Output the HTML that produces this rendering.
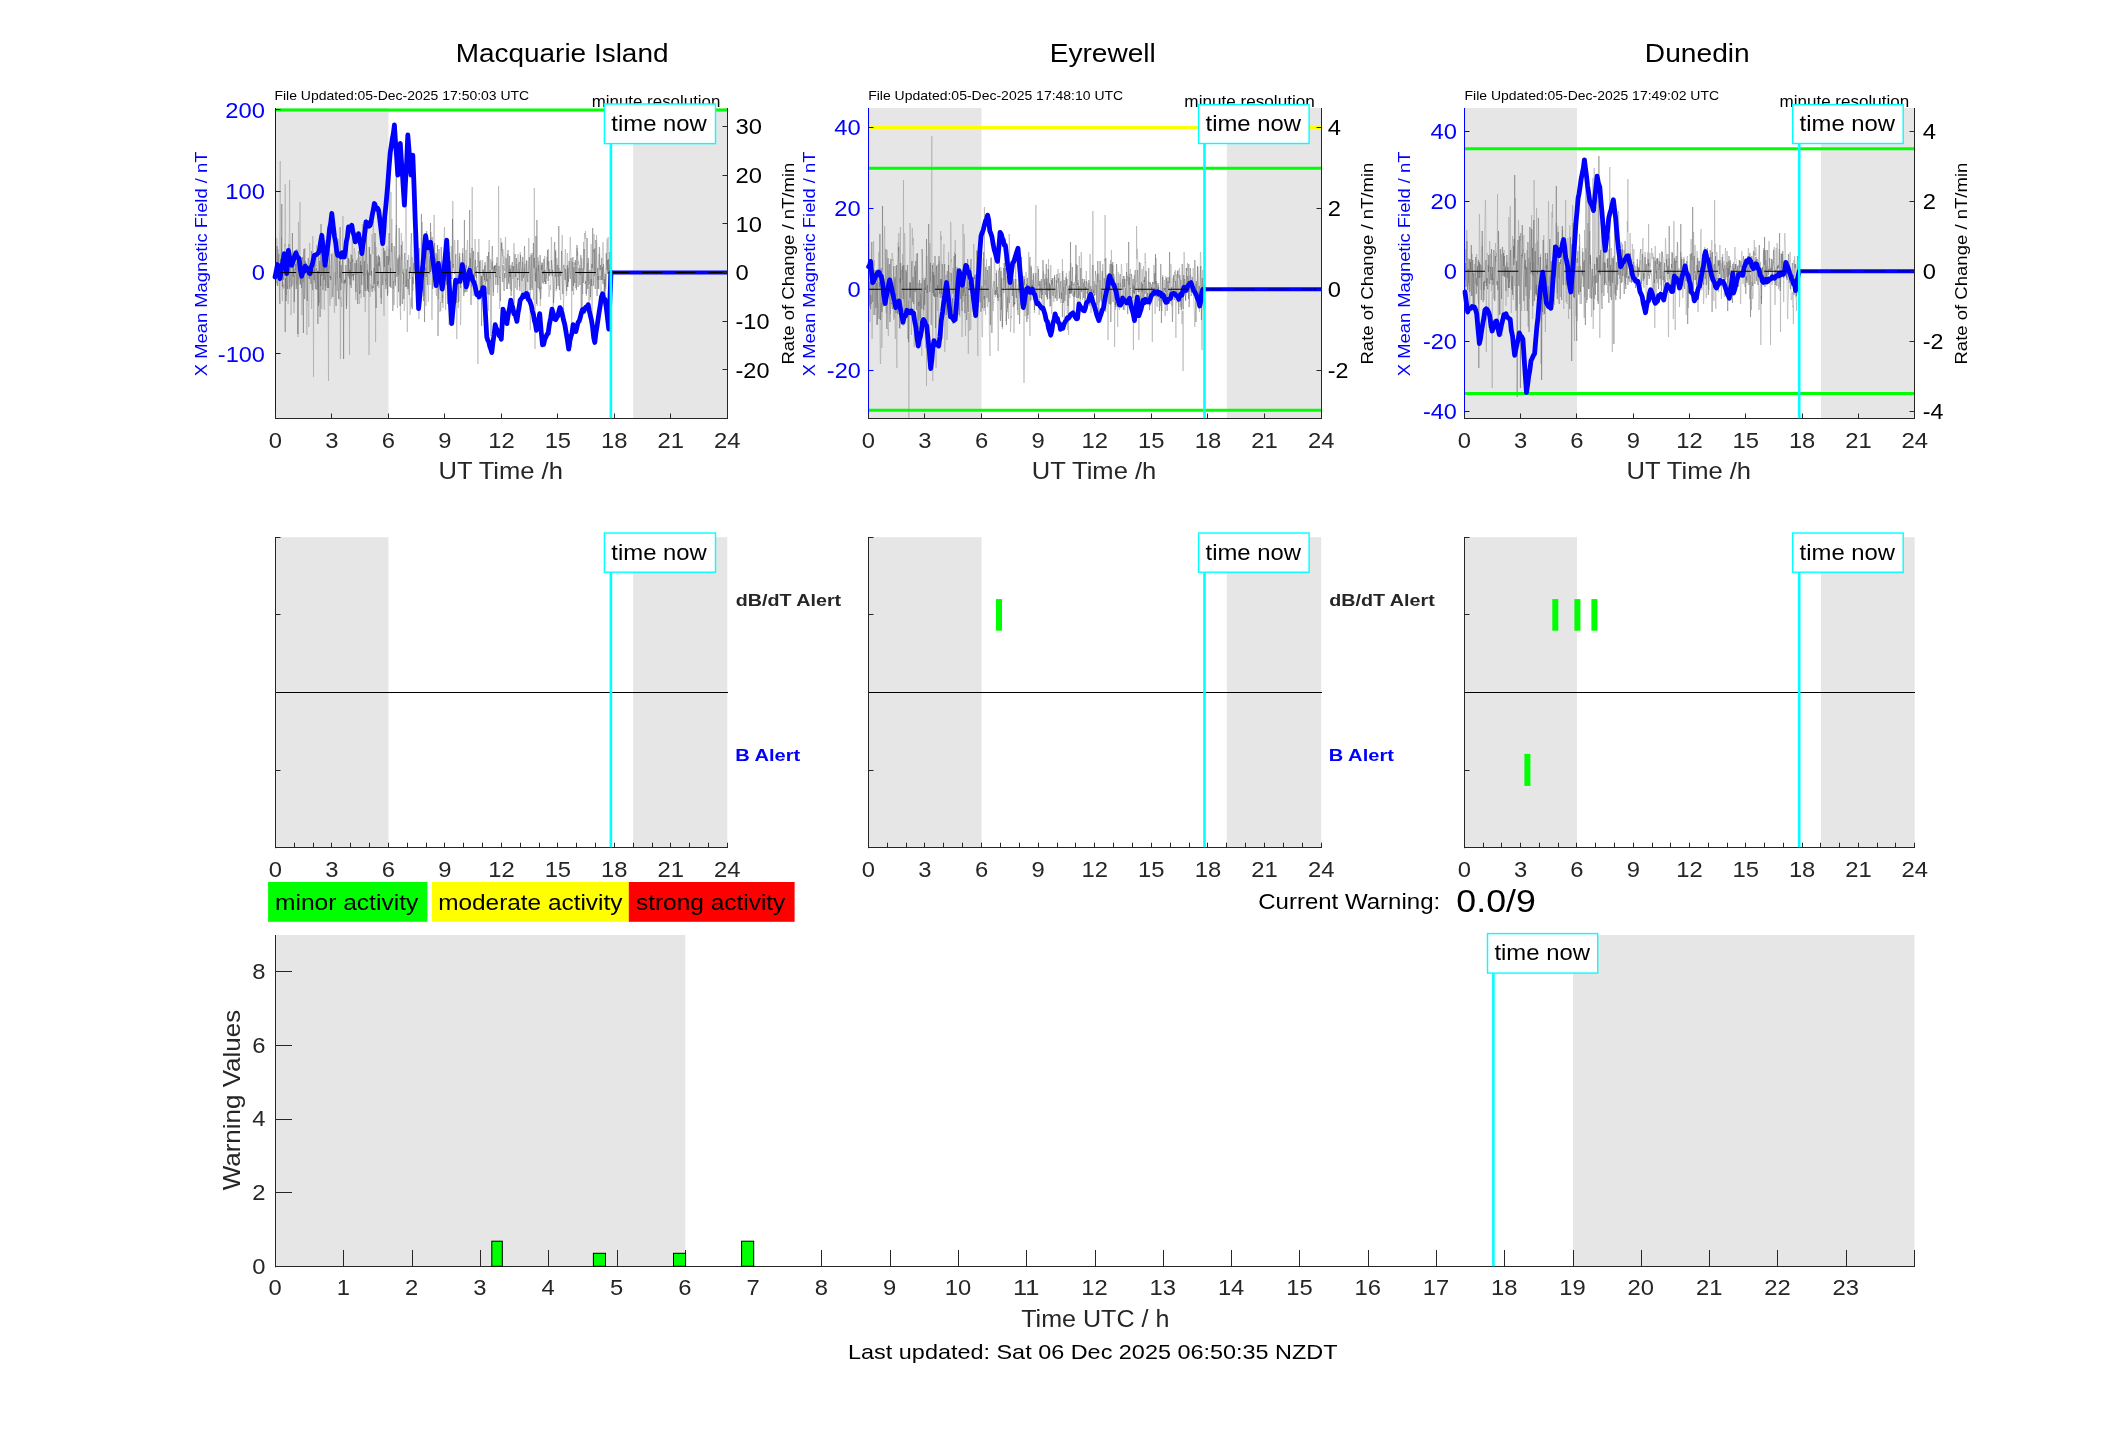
<!DOCTYPE html><html><head><meta charset="utf-8"><style>html,body{margin:0;padding:0;background:#fff;width:2117px;height:1437px;overflow:hidden}</style></head><body><svg width="2117" height="1437" viewBox="0 0 2117 1437" style="display:block;font-family:'Liberation Sans', sans-serif;will-change:transform">
<rect x="0.00" y="0.00" width="2117.00" height="1437.00" fill="#ffffff" stroke="none" stroke-width="0"/>
<rect x="275.50" y="108.00" width="112.95" height="310.20" fill="#e6e6e6" stroke="none" stroke-width="0"/>
<rect x="633.17" y="108.00" width="94.12" height="310.20" fill="#e6e6e6" stroke="none" stroke-width="0"/>
<clipPath id="clip0"><rect x="275.5" y="108.0" width="451.79999999999995" height="310.2"/></clipPath>
<path d="M275.5,279 275.8,269 276.1,274 276.4,265 276.8,238 277.1,245 277.4,275 277.7,259 278.0,251 278.3,249 278.6,278 279.0,263 279.3,254 279.6,234 279.9,226 280.2,161 280.5,259 280.8,269 281.1,262 281.5,237 281.8,255 282.1,295 282.4,301 282.7,282 283.0,287 283.3,289 283.7,284 284.0,288 284.3,267 284.6,244 284.9,247 285.2,184 285.5,253 285.9,271 286.2,287 286.5,295 286.8,264 287.1,249 287.4,257 287.7,283 288.1,304 288.4,293 288.7,272 289.0,242 289.3,234 289.6,180 289.9,232 290.2,245 290.6,279 290.9,315 291.2,314 291.5,290 291.8,273 292.1,275 292.4,281 292.8,285 293.1,275 293.4,264 293.7,295 294.0,313 294.3,287 294.6,277 295.0,257 295.3,257 295.6,256 295.9,266 296.2,265 296.5,263 296.8,273 297.1,285 297.5,257 297.8,268 298.1,337 298.4,222 298.7,228 299.0,260 299.3,279 299.7,276 300.0,202 300.3,285 300.6,276 300.9,281 301.2,268 301.5,295 301.9,315 302.2,303 302.5,282 302.8,269 303.1,275 303.4,282 303.7,269 304.1,249 304.4,267 304.7,258 305.0,248 305.3,272 305.6,263 305.9,271 306.2,291 306.6,326 306.9,335 307.2,311 307.5,265 307.8,266 308.1,288 308.4,313 308.8,327 309.1,307 309.4,276 309.7,243 310.0,248 310.3,274 310.6,278 311.0,280 311.3,291 311.6,309 311.9,289 312.2,268 312.5,247 312.8,236 313.1,260 313.5,377 313.8,292 314.1,279 314.4,261 314.7,283 315.0,280 315.3,271 315.7,255 316.0,265 316.3,267 316.6,245 316.9,251 317.2,267 317.5,275 317.9,279 318.2,281 318.5,283 318.8,295 319.1,300 319.4,303 319.7,299 320.1,291 320.4,276 320.7,268 321.0,248 321.3,267 321.6,308 321.9,309 322.2,278 322.6,265 322.9,258 323.2,275 323.5,259 323.8,281 324.1,308 324.4,310 324.8,262 325.1,240 325.4,267 325.7,286 326.0,276 326.3,271 326.6,270 327.0,254 327.3,254 327.6,277 327.9,300 328.2,312 328.5,381 328.8,274 329.2,258 329.5,286 329.8,302 330.1,306 330.4,276 330.7,277 331.0,278 331.3,299 331.7,291 332.0,276 332.3,263 332.6,253 332.9,253 333.2,265 333.5,274 333.9,283 334.2,310 334.5,313 334.8,303 335.1,272 335.4,285 335.7,274 336.1,237 336.4,239 336.7,262 337.0,266 337.3,291 337.6,270 337.9,239 338.2,239 338.6,250 338.9,263 339.2,283 339.5,285 339.8,300 340.1,272 340.4,359 340.8,297 341.1,303 341.4,303 341.7,307 342.0,294 342.3,274 342.6,226 343.0,216 343.3,256 343.6,284 343.9,280 344.2,280 344.5,280 344.8,284 345.2,279 345.5,283 345.8,272 346.1,295 346.4,306 346.7,291 347.0,285 347.3,278 347.7,277 348.0,268 348.3,262 348.6,259 348.9,260 349.2,273 349.5,355 349.9,260 350.2,264 350.5,254 350.8,256 351.1,267 351.4,277 351.7,277 352.1,233 352.4,231 352.7,255 353.0,262 353.3,281 353.6,281 353.9,261 354.3,248 354.6,252 354.9,253 355.2,253 355.5,270 355.8,300 356.1,289 356.4,263 356.8,275 357.1,272 357.4,264 357.7,258 358.0,262 358.3,271 358.6,281 359.0,299 359.3,304 359.6,303 359.9,264 360.2,256 360.5,293 360.8,290 361.2,298 361.5,276 361.8,255 362.1,242 362.4,224 362.7,234 363.0,242 363.4,276 363.7,274 364.0,244 364.3,272 364.6,282 364.9,285 365.2,312 365.5,298 365.9,256 366.2,238 366.5,245 366.8,256 367.1,275 367.4,264 367.7,279 368.1,279 368.4,272 368.7,292 369.0,355 369.3,247 369.6,271 369.9,289 370.3,297 370.6,284 370.9,286 371.2,289 371.5,271 371.8,246 372.1,234 372.4,245 372.8,254 373.1,226 373.4,221 373.7,244 374.0,278 374.3,291 374.6,262 375.0,242 375.3,254 375.6,342 375.9,248 376.2,247 376.5,260 376.8,273 377.2,264 377.5,272 377.8,273 378.1,262 378.4,266 378.7,288 379.0,278 379.4,256 379.7,266 380.0,262 380.3,271 380.6,298 380.9,296 381.2,285 381.5,268 381.9,266 382.2,246 382.5,224 382.8,233 383.1,217 383.4,256 383.7,307 384.1,316 384.4,287 384.7,255 385.0,250 385.3,252 385.6,281 385.9,279 386.3,285 386.6,276 386.9,246 387.2,260 387.5,288 387.8,294 388.1,283 388.4,272 388.8,263 389.1,249 389.4,261 389.7,170 390.0,286 390.3,276 390.6,258 391.0,192 391.3,252 391.6,235 391.9,219 392.2,238 392.5,248 392.8,281 393.2,289 393.5,281 393.8,291 394.1,305 394.4,293 394.7,272 395.0,283 395.4,264 395.7,235 396.0,233 396.3,225 396.6,228 396.9,262 397.2,306 397.5,308 397.9,293 398.2,257 398.5,266 398.8,275 399.1,259 399.4,255 399.7,265 400.1,284 400.4,317 400.7,320 401.0,263 401.3,233 401.6,260 401.9,254 402.3,273 402.6,241 402.9,272 403.2,269 403.5,284 403.8,274 404.1,311 404.5,309 404.8,305 405.1,250 405.4,234 405.7,219 406.0,191 406.3,213 406.6,247 407.0,305 407.3,332 407.6,309 407.9,289 408.2,286 408.5,255 408.8,257 409.2,268 409.5,290 409.8,306 410.1,315 410.4,310 410.7,303 411.0,298 411.4,307 411.7,284 412.0,257 412.3,268 412.6,275 412.9,291 413.2,280 413.5,248 413.9,235 414.2,232 414.5,243 414.8,270 415.1,259 415.4,241 415.7,240 416.1,252 416.4,286 416.7,293 417.0,258 417.3,277 417.6,283 417.9,297 418.3,290 418.6,268 418.9,319 419.2,300 419.5,287 419.8,280 420.1,266 420.5,277 420.8,293 421.1,293 421.4,288 421.7,273 422.0,245 422.3,222 422.6,243 423.0,262 423.3,292 423.6,285 423.9,296 424.2,268 424.5,263 424.8,245 425.2,244 425.5,284 425.8,306 426.1,305 426.4,285 426.7,268 427.0,241 427.4,244 427.7,257 428.0,290 428.3,302 428.6,286 428.9,269 429.2,264 429.6,259 429.9,285 430.2,274 430.5,263 430.8,233 431.1,232 431.4,272 431.7,317 432.1,320 432.4,300 432.7,281 433.0,268 433.3,258 433.6,238 433.9,215 434.3,215 434.6,239 434.9,269 435.2,261 435.5,258 435.8,264 436.1,294 436.5,296 436.8,264 437.1,255 437.4,260 437.7,279 438.0,299 438.3,299 438.6,280 439.0,264 439.3,266 439.6,283 439.9,312 440.2,306 440.5,302 440.8,311 441.2,286 441.5,261 441.8,273 442.1,286 442.4,298 442.7,295 443.0,308 443.4,296 443.7,274 444.0,245 444.3,229 444.6,227 444.9,254 445.2,272 445.6,310 445.9,287 446.2,259 446.5,246 446.8,264 447.1,281 447.4,304 447.7,304 448.1,271 448.4,243 448.7,252 449.0,325 449.3,269 449.6,254 449.9,252 450.3,260 450.6,280 450.9,274 451.2,246 451.5,251 451.8,267 452.1,279 452.5,272 452.8,201 453.1,236 453.4,244 453.7,265 454.0,256 454.3,248 454.7,240 455.0,245 455.3,261 455.6,276 455.9,278 456.2,284 456.5,295 456.8,339 457.2,280 457.5,276 457.8,285 458.1,292 458.4,308 458.7,285 459.0,283 459.4,275 459.7,257 460.0,279 460.3,307 460.6,325 460.9,313 461.2,293 461.6,284 461.9,262 462.2,261 462.5,251 462.8,248 463.1,257 463.4,265 463.8,268 464.1,277 464.4,293 464.7,288 465.0,286 465.3,277 465.6,265 465.9,250 466.3,250 466.6,268 466.9,260 467.2,247 467.5,240 467.8,253 468.1,278 468.5,284 468.8,267 469.1,281 469.4,286 469.7,283 470.0,270 470.3,253 470.7,267 471.0,268 471.3,268 471.6,287 471.9,274 472.2,187 472.5,273 472.8,277 473.2,296 473.5,281 473.8,273 474.1,273 474.4,282 474.7,265 475.0,239 475.4,250 475.7,276 476.0,267 476.3,283 476.6,275 476.9,286 477.2,285 477.6,299 477.9,364 478.2,300 478.5,269 478.8,239 479.1,248 479.4,260 479.8,289 480.1,298 480.4,289 480.7,260 481.0,266 481.3,276 481.6,289 481.9,294 482.3,271 482.6,260 482.9,272 483.2,269 483.5,280 483.8,290 484.1,286 484.5,266 484.8,282 485.1,268 485.4,265 485.7,271 486.0,271 486.3,274 486.7,281 487.0,282 487.3,281 487.6,279 487.9,300 488.2,311 488.5,286 488.9,249 489.2,240 489.5,261 489.8,275 490.1,279 490.4,272 490.7,259 491.0,268 491.4,270 491.7,266 492.0,262 492.3,269 492.6,261 492.9,278 493.2,285 493.6,292 493.9,280 494.2,266 494.5,270 494.8,266 495.1,265 495.4,277 495.8,269 496.1,270 496.4,263 496.7,270 497.0,276 497.3,281 497.6,293 497.9,273 498.3,262 498.6,186 498.9,260 499.2,270 499.5,300 499.8,309 500.1,282 500.5,260 500.8,238 501.1,243 501.4,251 501.7,250 502.0,242 502.3,251 502.7,256 503.0,249 503.3,258 503.6,264 503.9,256 504.2,266 504.5,271 504.9,263 505.2,245 505.5,237 505.8,253 506.1,279 506.4,286 506.7,289 507.0,270 507.4,254 507.7,268 508.0,277 508.3,279 508.6,282 508.9,274 509.2,266 509.6,273 509.9,286 510.2,289 510.5,274 510.8,265 511.1,268 511.4,291 511.8,289 512.1,275 512.4,266 512.7,279 513.0,277 513.3,270 513.6,252 514.0,243 514.3,249 514.6,264 514.9,271 515.2,273 515.5,288 515.8,275 516.1,271 516.5,265 516.8,264 517.1,268 517.4,273 517.7,268 518.0,254 518.3,263 518.7,274 519.0,269 519.3,286 519.6,287 519.9,273 520.2,252 520.5,256 520.9,268 521.2,269 521.5,277 521.8,296 522.1,291 522.4,270 522.7,262 523.0,275 523.4,295 523.7,297 524.0,288 524.3,268 524.6,276 524.9,264 525.2,280 525.6,290 525.9,289 526.2,266 526.5,260 526.8,275 527.1,296 527.4,290 527.8,298 528.1,284 528.4,255 528.7,238 529.0,241 529.3,259 529.6,268 530.0,272 530.3,330 530.6,277 530.9,258 531.2,253 531.5,279 531.8,288 532.1,281 532.5,255 532.8,253 533.1,277 533.4,300 533.7,289 534.0,262 534.3,188 534.7,279 535.0,349 535.3,273 535.6,282 535.9,280 536.2,268 536.5,271 536.9,301 537.2,306 537.5,293 537.8,282 538.1,257 538.4,271 538.7,261 539.0,270 539.4,292 539.7,291 540.0,297 540.3,306 540.6,300 540.9,287 541.2,289 541.6,266 541.9,262 542.2,264 542.5,270 542.8,272 543.1,281 543.4,284 543.8,280 544.1,275 544.4,265 544.7,256 545.0,275 545.3,280 545.6,278 546.0,272 546.3,279 546.6,271 546.9,257 547.2,257 547.5,265 547.8,261 548.1,270 548.5,249 548.8,296 549.1,297 549.4,294 549.7,289 550.0,285 550.3,290 550.7,290 551.0,261 551.3,237 551.6,241 551.9,264 552.2,265 552.5,279 552.9,285 553.2,309 553.5,302 553.8,299 554.1,296 554.4,292 554.7,281 555.1,259 555.4,252 555.7,273 556.0,291 556.3,291 556.6,281 556.9,258 557.2,263 557.6,269 557.9,276 558.2,275 558.5,277 558.8,274 559.1,268 559.4,275 559.8,272 560.1,294 560.4,297 560.7,300 561.0,285 561.3,269 561.6,266 562.0,239 562.3,235 562.6,251 562.9,265 563.2,289 563.5,310 563.8,298 564.1,278 564.5,271 564.8,267 565.1,255 565.4,249 565.7,276 566.0,281 566.3,296 566.7,294 567.0,263 567.3,253 567.6,270 567.9,287 568.2,282 568.5,278 568.9,275 569.2,264 569.5,253 569.8,253 570.1,238 570.4,237 570.7,249 571.1,279 571.4,279 571.7,347 572.0,284 572.3,272 572.6,262 572.9,265 573.2,271 573.6,295 573.9,281 574.2,262 574.5,265 574.8,263 575.1,263 575.4,284 575.8,288 576.1,273 576.4,265 576.7,252 577.0,248 577.3,256 577.6,251 578.0,258 578.3,265 578.6,261 578.9,266 579.2,274 579.5,270 579.8,265 580.2,275 580.5,268 580.8,291 581.1,316 581.4,286 581.7,258 582.0,261 582.3,283 582.7,294 583.0,278 583.3,271 583.6,242 583.9,268 584.2,247 584.5,233 584.9,238 585.2,239 585.5,231 585.8,236 586.1,263 586.4,296 586.7,291 587.1,280 587.4,270 587.7,263 588.0,281 588.3,274 588.6,284 588.9,303 589.2,286 589.6,287 589.9,300 590.2,299 590.5,285 590.8,260 591.1,244 591.4,260 591.8,299 592.1,327 592.4,297 592.7,269 593.0,251 593.3,250 593.6,252 594.0,234 594.3,258 594.6,276 594.9,248 595.2,258 595.5,274 595.8,264 596.2,253 596.5,235 596.8,241 597.1,270 597.4,281 597.7,289 598.0,283 598.3,274 598.7,261 599.0,254 599.3,254 599.6,267 599.9,280 600.2,276 600.5,293 600.9,298 601.2,297 601.5,287 601.8,282 602.1,275 602.4,251 602.7,245 603.1,242 603.4,250 603.7,266 604.0,273 604.3,273 604.6,280 604.9,307 605.3,300 605.6,287 605.9,289 606.2,280 606.5,256 606.8,252 607.1,239 607.4,255 607.8,274 608.1,237 608.4,292 608.7,294 609.0,292 609.3,268 609.6,264 610.0,275 610.3,293 610.6,285 610.9,267" fill="none" stroke="#a0a0a0" stroke-width="0.5" clip-path="url(#clip0)"/>
<path d="M275.5,272 275.8,284 276.1,284 276.4,277 276.8,268 277.1,246 277.4,278 277.7,286 278.0,280 278.3,259 278.6,258 279.0,254 279.3,284 279.6,297 279.9,304 280.2,275 280.5,259 280.8,279 281.1,265 281.5,249 281.8,204 282.1,268 282.4,287 282.7,266 283.0,267 283.3,280 283.7,276 284.0,273 284.3,256 284.6,254 284.9,263 285.2,332 285.5,278 285.9,299 286.2,301 286.5,267 286.8,270 287.1,284 287.4,289 287.7,286 288.1,270 288.4,260 288.7,272 289.0,244 289.3,269 289.6,289 289.9,277 290.2,259 290.6,258 290.9,280 291.2,286 291.5,287 291.8,285 292.1,265 292.4,233 292.8,273 293.1,277 293.4,272 293.7,254 294.0,282 294.3,302 294.6,288 295.0,269 295.3,270 295.6,264 295.9,282 296.2,289 296.5,287 296.8,249 297.1,250 297.5,284 297.8,334 298.1,318 298.4,280 298.7,256 299.0,257 299.3,256 299.7,266 300.0,281 300.3,284 300.6,268 300.9,272 301.2,279 301.5,288 301.9,281 302.2,263 302.5,257 302.8,289 303.1,302 303.4,333 303.7,254 304.1,249 304.4,270 304.7,299 305.0,291 305.3,261 305.6,270 305.9,268 306.2,263 306.6,272 306.9,288 307.2,301 307.5,291 307.8,275 308.1,259 308.4,258 308.8,265 309.1,278 309.4,279 309.7,268 310.0,271 310.3,278 310.6,279 311.0,284 311.3,283 311.6,251 311.9,269 312.2,288 312.5,289 312.8,290 313.1,273 313.5,273 313.8,270 314.1,280 314.4,265 314.7,261 315.0,265 315.3,279 315.7,289 316.0,277 316.3,269 316.6,268 316.9,290 317.2,285 317.5,271 317.9,324 318.2,271 318.5,306 318.8,256 319.1,274 319.4,274 319.7,261 320.1,317 320.4,275 320.7,286 321.0,224 321.3,276 321.6,272 321.9,272 322.2,258 322.6,264 322.9,290 323.2,286 323.5,271 323.8,266 324.1,280 324.4,276 324.8,264 325.1,268 325.4,285 325.7,291 326.0,275 326.3,264 326.6,272 327.0,279 327.3,288 327.6,266 327.9,265 328.2,278 328.5,288 328.8,267 329.2,250 329.5,262 329.8,265 330.1,278 330.4,276 330.7,280 331.0,278 331.3,254 331.7,259 332.0,274 332.3,285 332.6,295 332.9,297 333.2,291 333.5,283 333.9,275 334.2,263 334.5,246 334.8,245 335.1,251 335.4,274 335.7,292 336.1,306 336.4,278 336.7,266 337.0,256 337.3,261 337.6,278 337.9,279 338.2,286 338.6,299 338.9,291 339.2,276 339.5,261 339.8,278 340.1,227 340.4,271 340.8,290 341.1,265 341.4,267 341.7,283 342.0,271 342.3,266 342.6,258 343.0,266 343.3,284 343.6,359 343.9,294 344.2,289 344.5,281 344.8,280 345.2,283 345.5,273 345.8,265 346.1,269 346.4,309 346.7,304 347.0,289 347.3,230 347.7,255 348.0,276 348.3,276 348.6,258 348.9,266 349.2,277 349.5,279 349.9,270 350.2,285 350.5,266 350.8,262 351.1,288 351.4,285 351.7,255 352.1,262 352.4,259 352.7,276 353.0,274 353.3,280 353.6,274 353.9,275 354.3,274 354.6,274 354.9,263 355.2,271 355.5,276 355.8,292 356.1,274 356.4,260 356.8,267 357.1,281 357.4,290 357.7,304 358.0,282 358.3,265 358.6,251 359.0,258 359.3,290 359.6,294 359.9,291 360.2,265 360.5,261 360.8,273 361.2,265 361.5,270 361.8,285 362.1,266 362.4,244 362.7,246 363.0,270 363.4,275 363.7,291 364.0,297 364.3,261 364.6,275 364.9,286 365.2,291 365.5,261 365.9,254 366.2,250 366.5,219 366.8,266 367.1,291 367.4,270 367.7,289 368.1,273 368.4,290 368.7,292 369.0,271 369.3,247 369.6,258 369.9,275 370.3,269 370.6,254 370.9,267 371.2,276 371.5,271 371.8,275 372.1,292 372.4,286 372.8,287 373.1,288 373.4,288 373.7,276 374.0,268 374.3,284 374.6,264 375.0,233 375.3,257 375.6,293 375.9,294 376.2,308 376.5,275 376.8,256 377.2,258 377.5,286 377.8,281 378.1,284 378.4,255 378.7,258 379.0,266 379.4,257 379.7,258 380.0,265 380.3,267 380.6,272 380.9,276 381.2,304 381.5,298 381.9,277 382.2,272 382.5,282 382.8,285 383.1,274 383.4,268 383.7,248 384.1,262 384.4,267 384.7,251 385.0,263 385.3,280 385.6,281 385.9,289 386.3,279 386.6,256 386.9,257 387.2,276 387.5,296 387.8,280 388.1,256 388.4,265 388.8,239 389.1,233 389.4,249 389.7,265 390.0,287 390.3,275 390.6,268 391.0,288 391.3,252 391.6,247 391.9,243 392.2,250 392.5,297 392.8,311 393.2,304 393.5,269 393.8,260 394.1,246 394.4,253 394.7,257 395.0,276 395.4,286 395.7,269 396.0,245 396.3,169 396.6,268 396.9,277 397.2,275 397.5,265 397.9,259 398.2,278 398.5,292 398.8,266 399.1,228 399.4,240 399.7,279 400.1,306 400.4,275 400.7,258 401.0,256 401.3,245 401.6,285 401.9,292 402.3,304 402.6,293 402.9,272 403.2,274 403.5,273 403.8,299 404.1,267 404.5,256 404.8,253 405.1,257 405.4,273 405.7,287 406.0,282 406.3,269 406.6,287 407.0,274 407.3,263 407.6,260 407.9,289 408.2,279 408.5,286 408.8,291 409.2,295 409.5,271 409.8,279 410.1,267 410.4,273 410.7,249 411.0,242 411.4,233 411.7,247 412.0,302 412.3,309 412.6,277 412.9,280 413.2,284 413.5,264 413.9,263 414.2,274 414.5,261 414.8,251 415.1,266 415.4,272 415.7,250 416.1,244 416.4,254 416.7,261 417.0,279 417.3,287 417.6,261 417.9,280 418.3,304 418.6,277 418.9,259 419.2,248 419.5,281 419.8,286 420.1,295 420.5,297 420.8,274 421.1,263 421.4,214 421.7,278 422.0,258 422.3,266 422.6,272 423.0,273 423.3,265 423.6,301 423.9,279 424.2,268 424.5,322 424.8,288 425.2,267 425.5,270 425.8,269 426.1,277 426.4,274 426.7,231 427.0,271 427.4,283 427.7,285 428.0,263 428.3,248 428.6,244 428.9,256 429.2,268 429.6,274 429.9,256 430.2,272 430.5,223 430.8,272 431.1,269 431.4,268 431.7,248 432.1,237 432.4,265 432.7,289 433.0,269 433.3,261 433.6,262 433.9,272 434.3,262 434.6,243 434.9,262 435.2,280 435.5,286 435.8,268 436.1,253 436.5,266 436.8,274 437.1,273 437.4,245 437.7,258 438.0,336 438.3,299 438.6,277 439.0,249 439.3,261 439.6,278 439.9,279 440.2,290 440.5,270 440.8,271 441.2,247 441.5,260 441.8,278 442.1,303 442.4,298 442.7,298 443.0,279 443.4,253 443.7,254 444.0,284 444.3,280 444.6,275 444.9,276 445.2,281 445.6,271 445.9,268 446.2,285 446.5,283 446.8,276 447.1,261 447.4,290 447.7,304 448.1,284 448.4,273 448.7,281 449.0,284 449.3,278 449.6,279 449.9,273 450.3,266 450.6,261 450.9,275 451.2,279 451.5,274 451.8,273 452.1,270 452.5,219 452.8,265 453.1,268 453.4,264 453.7,265 454.0,272 454.3,272 454.7,274 455.0,270 455.3,259 455.6,256 455.9,254 456.2,268 456.5,300 456.8,303 457.2,282 457.5,254 457.8,240 458.1,250 458.4,283 458.7,302 459.0,283 459.4,258 459.7,253 460.0,273 460.3,281 460.6,288 460.9,275 461.2,262 461.6,271 461.9,274 462.2,276 462.5,253 462.8,257 463.1,264 463.4,282 463.8,296 464.1,280 464.4,220 464.7,263 465.0,283 465.3,292 465.6,289 465.9,267 466.3,265 466.6,285 466.9,292 467.2,280 467.5,283 467.8,282 468.1,277 468.5,267 468.8,266 469.1,274 469.4,268 469.7,210 470.0,267 470.3,258 470.7,284 471.0,305 471.3,292 471.6,272 471.9,248 472.2,251 472.5,274 472.8,269 473.2,261 473.5,251 473.8,265 474.1,289 474.4,281 474.7,266 475.0,265 475.4,260 475.7,272 476.0,276 476.3,278 476.6,271 476.9,272 477.2,266 477.6,267 477.9,252 478.2,256 478.5,261 478.8,265 479.1,274 479.4,273 479.8,261 480.1,281 480.4,295 480.7,288 481.0,282 481.3,276 481.6,326 481.9,276 482.3,288 482.6,285 482.9,270 483.2,270 483.5,276 483.8,272 484.1,273 484.5,280 484.8,265 485.1,262 485.4,287 485.7,333 486.0,280 486.3,273 486.7,281 487.0,264 487.3,256 487.6,275 487.9,294 488.2,280 488.5,252 488.9,264 489.2,295 489.5,290 489.8,279 490.1,270 490.4,276 490.7,283 491.0,336 491.4,276 491.7,275 492.0,255 492.3,246 492.6,256 492.9,284 493.2,296 493.6,273 493.9,267 494.2,273 494.5,266 494.8,268 495.1,265 495.4,267 495.8,285 496.1,276 496.4,277 496.7,271 497.0,257 497.3,268 497.6,280 497.9,285 498.3,276 498.6,274 498.9,266 499.2,272 499.5,278 499.8,277 500.1,291 500.5,301 500.8,276 501.1,257 501.4,243 501.7,247 502.0,251 502.3,277 502.7,282 503.0,265 503.3,268 503.6,268 503.9,290 504.2,291 504.5,273 504.9,278 505.2,277 505.5,274 505.8,266 506.1,258 506.4,265 506.7,276 507.0,288 507.4,289 507.7,280 508.0,250 508.3,257 508.6,273 508.9,284 509.2,268 509.6,256 509.9,277 510.2,269 510.5,277 510.8,281 511.1,296 511.4,269 511.8,265 512.1,263 512.4,262 512.7,267 513.0,272 513.3,266 513.6,267 514.0,317 514.3,274 514.6,266 514.9,257 515.2,254 515.5,276 515.8,277 516.1,273 516.5,258 516.8,274 517.1,290 517.4,280 517.7,278 518.0,280 518.3,269 518.7,265 519.0,262 519.3,262 519.6,273 519.9,291 520.2,265 520.5,255 520.9,259 521.2,270 521.5,273 521.8,279 522.1,281 522.4,269 522.7,257 523.0,269 523.4,278 523.7,277 524.0,271 524.3,250 524.6,246 524.9,269 525.2,293 525.6,291 525.9,282 526.2,280 526.5,263 526.8,261 527.1,268 527.4,277 527.8,282 528.1,275 528.4,273 528.7,262 529.0,261 529.3,257 529.6,273 530.0,290 530.3,289 530.6,272 530.9,263 531.2,255 531.5,264 531.8,276 532.1,290 532.5,283 532.8,275 533.1,265 533.4,243 533.7,262 534.0,268 534.3,258 534.7,266 535.0,272 535.3,281 535.6,279 535.9,236 536.2,269 536.5,304 536.9,220 537.2,260 537.5,278 537.8,284 538.1,288 538.4,265 538.7,265 539.0,277 539.4,290 539.7,279 540.0,255 540.3,257 540.6,299 540.9,294 541.2,271 541.6,265 541.9,270 542.2,263 542.5,267 542.8,283 543.1,271 543.4,274 543.8,259 544.1,261 544.4,276 544.7,282 545.0,270 545.3,284 545.6,280 546.0,284 546.3,279 546.6,274 546.9,274 547.2,264 547.5,250 547.8,271 548.1,281 548.5,274 548.8,261 549.1,273 549.4,276 549.7,269 550.0,273 550.3,274 550.7,274 551.0,274 551.3,270 551.6,260 551.9,266 552.2,276 552.5,270 552.9,270 553.2,280 553.5,303 553.8,293 554.1,271 554.4,247 554.7,242 555.1,267 555.4,277 555.7,250 556.0,260 556.3,272 556.6,289 556.9,275 557.2,266 557.6,265 557.9,270 558.2,286 558.5,273 558.8,226 559.1,269 559.4,290 559.8,273 560.1,271 560.4,271 560.7,276 561.0,274 561.3,263 561.6,251 562.0,264 562.3,283 562.6,294 562.9,294 563.2,271 563.5,265 563.8,265 564.1,266 564.5,269 564.8,273 565.1,280 565.4,269 565.7,272 566.0,282 566.3,285 566.7,291 567.0,274 567.3,265 567.6,287 567.9,268 568.2,278 568.5,282 568.9,266 569.2,261 569.5,271 569.8,277 570.1,278 570.4,279 570.7,267 571.1,258 571.4,268 571.7,279 572.0,288 572.3,291 572.6,263 572.9,257 573.2,275 573.6,286 573.9,267 574.2,268 574.5,282 574.8,283 575.1,274 575.4,260 575.8,267 576.1,276 576.4,290 576.7,269 577.0,245 577.3,258 577.6,282 578.0,287 578.3,286 578.6,273 578.9,268 579.2,271 579.5,273 579.8,285 580.2,275 580.5,258 580.8,255 581.1,258 581.4,264 581.7,287 582.0,307 582.3,292 582.7,272 583.0,268 583.3,283 583.6,273 583.9,254 584.2,249 584.5,256 584.9,279 585.2,284 585.5,283 585.8,281 586.1,294 586.4,283 586.7,263 587.1,238 587.4,257 587.7,289 588.0,283 588.3,258 588.6,263 588.9,285 589.2,284 589.6,282 589.9,270 590.2,281 590.5,297 590.8,288 591.1,279 591.4,286 591.8,264 592.1,268 592.4,267 592.7,228 593.0,271 593.3,286 593.6,281 594.0,252 594.3,249 594.6,267 594.9,276 595.2,289 595.5,273 595.8,240 596.2,247 596.5,258 596.8,287 597.1,296 597.4,272 597.7,268 598.0,280 598.3,276 598.7,289 599.0,270 599.3,247 599.6,248 599.9,267 600.2,270 600.5,265 600.9,272 601.2,280 601.5,266 601.8,258 602.1,280 602.4,267 602.7,277 603.1,284 603.4,264 603.7,272 604.0,285 604.3,296 604.6,279 604.9,291 605.3,274 605.6,287 605.9,276 606.2,253 606.5,260 606.8,267 607.1,270 607.4,260 607.8,271 608.1,274 608.4,259 608.7,267 609.0,284 609.3,272 609.6,252 610.0,263 610.3,279 610.6,287 610.9,271" fill="none" stroke="#5c5c5c" stroke-width="0.42" clip-path="url(#clip0)"/>
<line x1="275.50" y1="110.10" x2="727.30" y2="110.10" stroke="#00ff00" stroke-width="3" />
<path d="M275.0,277.0 276.2,271.6 277.5,264.5 278.8,271.8 280.0,278.7 281.1,272.2 282.1,265.5 283.1,260.5 284.2,253.6 285.4,262.9 286.7,273.7 288.4,250.3 289.5,256.7 290.6,260.4 291.7,265.3 292.8,262.3 293.8,259.3 294.8,255.7 295.9,252.8 297.0,256.2 298.1,257.6 299.2,258.6 300.4,269.8 301.7,276.2 302.8,272.2 304.0,271.5 305.1,266.2 306.1,267.3 307.1,269.7 308.1,268.9 309.1,273.0 310.1,273.7 311.2,267.2 312.2,264.7 313.2,260.4 314.3,255.3 315.3,255.0 316.3,254.7 317.3,253.9 318.3,252.8 319.3,251.1 320.6,242.2 321.8,235.3 322.9,245.6 324.0,254.7 325.1,265.3 326.2,257.0 327.3,250.0 328.5,239.9 329.6,228.5 330.7,223.1 331.8,213.5 333.5,228.6 334.5,236.6 335.6,242.1 336.6,250.8 337.6,255.3 338.7,253.8 339.8,254.9 341.0,256.9 342.1,252.7 343.2,252.6 344.3,257.0 345.4,250.4 346.4,241.3 347.4,237.0 348.5,226.9 349.6,228.0 350.7,227.0 351.8,225.2 352.9,232.1 354.1,235.3 355.2,241.9 356.3,237.6 357.4,238.2 358.5,233.6 359.6,241.1 360.8,245.0 361.9,253.6 362.9,244.8 363.9,239.0 365.0,231.4 366.0,221.9 367.1,222.7 368.1,222.9 369.1,226.2 370.2,225.2 371.2,221.2 372.3,214.5 373.3,209.8 374.4,203.5 375.4,206.0 376.5,209.0 377.6,208.2 378.6,210.2 379.6,217.8 380.6,225.9 381.7,235.5 382.7,243.6 383.7,232.1 384.7,216.6 385.7,207.5 386.7,196.8 387.7,185.2 389.0,167.6 390.3,151.8 391.3,146.0 392.4,138.2 393.4,133.2 394.4,125.0 395.5,142.1 396.7,157.9 397.8,175.1 399.1,159.4 400.3,143.4 401.3,159.8 402.4,173.8 403.4,189.5 404.4,205.2 405.5,182.0 406.7,161.6 407.8,135.0 408.9,148.6 410.0,163.5 411.1,175.1 412.8,155.1 414.0,185.4 415.1,217.2 416.3,247.5 417.4,278.1 418.6,308.7 419.6,298.4 420.6,288.2 421.6,276.0 422.6,267.9 423.6,256.7 424.6,244.5 425.6,235.6 426.7,242.1 427.8,247.9 429.2,244.4 430.6,242.3 431.7,250.9 432.8,259.8 433.9,267.8 435.0,275.1 436.1,285.7 437.2,275.3 438.4,263.5 439.7,272.2 441.0,280.7 442.3,289.1 443.4,278.8 444.5,264.5 445.6,253.0 446.7,240.1 447.7,258.6 448.7,275.5 449.7,291.6 450.7,307.5 451.7,323.6 453.0,309.3 454.3,295.0 455.6,280.2 456.7,282.3 457.9,281.4 459.0,280.3 460.1,281.3 461.2,273.2 462.3,264.6 463.6,270.7 464.9,277.6 466.2,286.9 467.3,281.8 468.5,275.9 469.6,270.2 470.6,275.4 471.6,276.1 472.6,280.3 473.7,281.8 474.7,284.7 475.7,289.1 476.8,294.7 477.9,295.1 479.0,296.9 480.0,295.3 481.0,291.9 482.0,292.2 483.0,287.6 484.0,288.0 485.4,312.9 486.8,337.0 487.8,340.2 488.8,341.9 489.8,346.4 490.8,349.1 491.8,352.6 492.9,342.6 494.1,334.8 495.2,324.7 496.2,328.1 497.2,329.8 498.2,331.9 499.3,336.0 500.3,336.3 501.3,339.2 503.0,309.1 504.3,313.6 505.6,319.2 506.9,323.6 508.2,314.5 509.5,308.5 510.8,300.2 511.8,305.0 512.8,307.7 513.9,313.7 514.9,312.9 515.9,317.5 516.9,321.4 518.0,313.1 519.1,307.5 520.2,300.2 521.2,298.8 522.2,297.5 523.2,294.9 524.3,296.5 525.3,295.6 526.3,293.5 527.3,294.0 528.3,299.6 529.4,300.1 530.4,302.8 531.4,305.8 532.4,311.3 533.4,314.2 534.4,320.7 535.4,324.2 536.4,330.3 537.5,324.1 538.6,320.2 539.7,313.6 541.1,330.4 542.5,344.8 543.6,344.5 544.7,339.6 545.9,337.0 547.0,334.3 548.1,333.6 549.4,324.2 550.7,317.9 552.0,309.1 553.4,314.0 554.7,319.2 555.7,319.7 556.8,317.4 557.8,316.1 558.8,311.7 559.9,307.6 560.9,309.1 562.2,313.5 563.5,319.9 564.8,324.7 566.1,332.5 567.4,340.2 568.7,349.2 569.8,340.9 570.9,336.6 572.0,333.2 573.1,324.7 574.5,329.3 575.9,331.4 577.0,326.8 578.1,322.3 579.3,320.9 580.4,317.0 581.5,312.5 582.6,309.4 583.7,311.4 584.9,308.5 586.0,307.0 587.1,306.7 588.2,304.7 589.3,310.7 590.4,315.7 591.5,320.3 592.6,327.3 593.7,337.6 594.8,342.5 595.9,333.2 597.0,326.6 598.1,319.0 599.3,311.0 600.4,304.4 601.5,296.9 602.6,293.8 603.8,298.9 604.9,299.1 606.2,307.0 607.5,318.2 608.8,329.2 609.9,299.7 611.0,272.5" fill="none" stroke="#0000ff" stroke-width="4.8" stroke-linejoin="round" stroke-linecap="round" />
<line x1="610.90" y1="272.50" x2="727.30" y2="272.50" stroke="#0000ff" stroke-width="4" />
<line x1="275.50" y1="272.50" x2="727.30" y2="272.50" stroke="#000000" stroke-width="1.1" stroke-dasharray="20.6,12.7"/>
<line x1="275.50" y1="108.00" x2="275.50" y2="419.00" stroke="#0000ff" stroke-width="1"/>
<line x1="727.50" y1="108.00" x2="727.50" y2="419.00" stroke="#262626" stroke-width="1"/>
<line x1="275.00" y1="418.50" x2="728.00" y2="418.50" stroke="#262626" stroke-width="1"/>
<line x1="275.50" y1="413.50" x2="275.50" y2="418.00" stroke="#262626" stroke-width="1"/>
<text x="268.89" y="448.00" font-size="22.2" fill="#262626" textLength="13.23" lengthAdjust="spacingAndGlyphs">0</text>
<line x1="331.50" y1="413.50" x2="331.50" y2="418.00" stroke="#262626" stroke-width="1"/>
<text x="325.36" y="448.00" font-size="22.2" fill="#262626" textLength="13.23" lengthAdjust="spacingAndGlyphs">3</text>
<line x1="388.50" y1="413.50" x2="388.50" y2="418.00" stroke="#262626" stroke-width="1"/>
<text x="381.84" y="448.00" font-size="22.2" fill="#262626" textLength="13.23" lengthAdjust="spacingAndGlyphs">6</text>
<line x1="444.50" y1="413.50" x2="444.50" y2="418.00" stroke="#262626" stroke-width="1"/>
<text x="438.31" y="448.00" font-size="22.2" fill="#262626" textLength="13.23" lengthAdjust="spacingAndGlyphs">9</text>
<line x1="501.50" y1="413.50" x2="501.50" y2="418.00" stroke="#262626" stroke-width="1"/>
<text x="488.17" y="448.00" font-size="22.2" fill="#262626" textLength="26.46" lengthAdjust="spacingAndGlyphs">12</text>
<line x1="557.50" y1="413.50" x2="557.50" y2="418.00" stroke="#262626" stroke-width="1"/>
<text x="544.65" y="448.00" font-size="22.2" fill="#262626" textLength="26.46" lengthAdjust="spacingAndGlyphs">15</text>
<line x1="614.50" y1="413.50" x2="614.50" y2="418.00" stroke="#262626" stroke-width="1"/>
<text x="601.12" y="448.00" font-size="22.2" fill="#262626" textLength="26.46" lengthAdjust="spacingAndGlyphs">18</text>
<line x1="670.50" y1="413.50" x2="670.50" y2="418.00" stroke="#262626" stroke-width="1"/>
<text x="657.60" y="448.00" font-size="22.2" fill="#262626" textLength="26.46" lengthAdjust="spacingAndGlyphs">21</text>
<line x1="727.50" y1="413.50" x2="727.50" y2="418.00" stroke="#262626" stroke-width="1"/>
<text x="714.07" y="448.00" font-size="22.2" fill="#262626" textLength="26.46" lengthAdjust="spacingAndGlyphs">24</text>
<line x1="275.00" y1="109.50" x2="280.50" y2="109.50" stroke="#0000ff" stroke-width="1"/>
<text x="225.31" y="117.70" font-size="22.2" fill="#0000ff" textLength="39.69" lengthAdjust="spacingAndGlyphs">200</text>
<line x1="275.00" y1="191.50" x2="280.50" y2="191.50" stroke="#0000ff" stroke-width="1"/>
<text x="225.31" y="199.10" font-size="22.2" fill="#0000ff" textLength="39.69" lengthAdjust="spacingAndGlyphs">100</text>
<line x1="275.00" y1="272.50" x2="280.50" y2="272.50" stroke="#0000ff" stroke-width="1"/>
<text x="251.77" y="280.30" font-size="22.2" fill="#0000ff" textLength="13.23" lengthAdjust="spacingAndGlyphs">0</text>
<line x1="275.00" y1="353.50" x2="280.50" y2="353.50" stroke="#0000ff" stroke-width="1"/>
<text x="217.80" y="361.70" font-size="22.2" fill="#0000ff" textLength="47.20" lengthAdjust="spacingAndGlyphs">-100</text>
<line x1="722.50" y1="126.50" x2="727.50" y2="126.50" stroke="#262626" stroke-width="1"/>
<text x="735.50" y="134.20" font-size="22.2" fill="#000000" textLength="26.46" lengthAdjust="spacingAndGlyphs">30</text>
<line x1="722.50" y1="175.50" x2="727.50" y2="175.50" stroke="#262626" stroke-width="1"/>
<text x="735.50" y="182.80" font-size="22.2" fill="#000000" textLength="26.46" lengthAdjust="spacingAndGlyphs">20</text>
<line x1="722.50" y1="223.50" x2="727.50" y2="223.50" stroke="#262626" stroke-width="1"/>
<text x="735.50" y="231.50" font-size="22.2" fill="#000000" textLength="26.46" lengthAdjust="spacingAndGlyphs">10</text>
<line x1="722.50" y1="272.50" x2="727.50" y2="272.50" stroke="#262626" stroke-width="1"/>
<text x="735.50" y="280.30" font-size="22.2" fill="#000000" textLength="13.23" lengthAdjust="spacingAndGlyphs">0</text>
<line x1="722.50" y1="321.50" x2="727.50" y2="321.50" stroke="#262626" stroke-width="1"/>
<text x="735.50" y="329.00" font-size="22.2" fill="#000000" textLength="33.97" lengthAdjust="spacingAndGlyphs">-10</text>
<line x1="722.50" y1="369.50" x2="727.50" y2="369.50" stroke="#262626" stroke-width="1"/>
<text x="735.50" y="377.70" font-size="22.2" fill="#000000" textLength="33.97" lengthAdjust="spacingAndGlyphs">-20</text>
<text x="438.46" y="479.00" font-size="24.3" fill="#262626" font-weight="normal" textLength="124.48" lengthAdjust="spacingAndGlyphs">UT Time /h</text>
<text x="455.71" y="61.70" font-size="26.2" fill="#000000" font-weight="normal" textLength="212.79" lengthAdjust="spacingAndGlyphs">Macquarie Island</text>
<text x="274.45" y="100.20" font-size="12.2" fill="#000000" font-weight="normal" textLength="254.78" lengthAdjust="spacingAndGlyphs">File Updated:05-Dec-2025 17:50:03 UTC</text>
<text x="591.68" y="106.60" font-size="16.5" fill="#000000" font-weight="normal" textLength="128.72" lengthAdjust="spacingAndGlyphs">minute resolution</text>
<line x1="610.90" y1="143.60" x2="610.90" y2="418.20" stroke="#00ffff" stroke-width="2.6" />
<rect x="604.40" y="104.00" width="111.10" height="39.60" fill="#ffffff" stroke="#00ffff" stroke-width="1.4"/>
<text x="611.34" y="130.80" font-size="21.5" fill="#000000" font-weight="normal" textLength="95.50" lengthAdjust="spacingAndGlyphs">time now</text>
<text transform="translate(206.60,376.21) rotate(-90)" x="0" y="0" font-size="16.8" fill="#0000ff" font-weight="normal" textLength="224.63" lengthAdjust="spacingAndGlyphs">X Mean Magnetic Field / nT</text>
<text transform="translate(794.30,364.52) rotate(-90)" x="0" y="0" font-size="16.8" fill="#000000" font-weight="normal" textLength="201.82" lengthAdjust="spacingAndGlyphs">Rate of Change / nT/min</text>
<rect x="868.30" y="108.00" width="113.23" height="310.20" fill="#e6e6e6" stroke="none" stroke-width="0"/>
<rect x="1226.85" y="108.00" width="94.35" height="310.20" fill="#e6e6e6" stroke="none" stroke-width="0"/>
<clipPath id="clip1"><rect x="868.3" y="108.0" width="452.9000000000001" height="310.2"/></clipPath>
<path d="M868.3,255 868.6,243 868.9,224 869.2,247 869.6,266 869.9,321 870.2,322 870.5,281 870.8,272 871.1,277 871.4,302 871.8,311 872.1,339 872.4,316 872.7,296 873.0,275 873.3,264 873.6,241 874.0,266 874.3,260 874.6,279 874.9,302 875.2,315 875.5,280 875.8,283 876.2,275 876.5,286 876.8,287 877.1,324 877.4,315 877.7,294 878.0,287 878.4,259 878.7,252 879.0,264 879.3,287 879.6,294 879.9,328 880.3,361 880.6,364 880.9,328 881.2,303 881.5,323 881.8,348 882.1,344 882.5,305 882.8,300 883.1,307 883.4,303 883.7,293 884.0,262 884.3,235 884.7,226 885.0,259 885.3,295 885.6,297 885.9,291 886.2,313 886.5,291 886.9,272 887.2,250 887.5,295 887.8,308 888.1,331 888.4,336 888.7,304 889.1,293 889.4,290 889.7,297 890.0,301 890.3,309 890.6,314 890.9,291 891.3,293 891.6,278 891.9,254 892.2,253 892.5,255 892.8,261 893.1,259 893.5,289 893.8,320 894.1,308 894.4,318 894.7,307 895.0,279 895.3,339 895.7,266 896.0,282 896.3,299 896.6,356 896.9,368 897.2,333 897.5,275 897.9,247 898.2,242 898.5,252 898.8,233 899.1,255 899.4,263 899.8,320 900.1,329 900.4,227 900.7,317 901.0,283 901.3,274 901.6,270 902.0,271 902.3,280 902.6,254 902.9,284 903.2,312 903.5,180 903.8,326 904.2,297 904.5,233 904.8,235 905.1,247 905.4,273 905.7,284 906.0,288 906.4,272 906.7,272 907.0,294 907.3,309 907.6,338 907.9,339 908.2,322 908.6,301 908.9,427 909.2,286 909.5,259 909.8,241 910.1,223 910.4,242 910.8,277 911.1,308 911.4,335 911.7,316 912.0,254 912.3,228 912.6,245 913.0,240 913.3,238 913.6,242 913.9,304 914.2,347 914.5,326 914.8,287 915.2,271 915.5,276 915.8,289 916.1,273 916.4,254 916.7,288 917.0,304 917.4,324 917.7,315 918.0,303 918.3,295 918.6,283 918.9,302 919.3,321 919.6,313 919.9,300 920.2,318 920.5,294 920.8,296 921.1,315 921.5,341 921.8,356 922.1,315 922.4,297 922.7,278 923.0,290 923.3,299 923.7,316 924.0,298 924.3,288 924.6,294 924.9,305 925.2,320 925.5,348 925.9,314 926.2,287 926.5,386 926.8,256 927.1,310 927.4,330 927.7,343 928.1,361 928.4,343 928.7,325 929.0,317 929.3,285 929.6,248 929.9,243 930.3,247 930.6,282 930.9,259 931.2,223 931.5,203 931.8,136 932.1,277 932.5,298 932.8,381 933.1,282 933.4,263 933.7,271 934.0,279 934.3,294 934.7,297 935.0,296 935.3,293 935.6,329 935.9,367 936.2,368 936.5,293 936.9,265 937.2,291 937.5,311 937.8,281 938.1,264 938.4,319 938.8,327 939.1,283 939.4,261 939.7,283 940.0,298 940.3,278 940.6,231 941.0,240 941.3,236 941.6,279 941.9,328 942.2,339 942.5,319 942.8,292 943.2,272 943.5,256 943.8,246 944.1,244 944.4,296 944.7,352 945.0,349 945.4,328 945.7,292 946.0,275 946.3,300 946.6,326 946.9,340 947.2,335 947.6,326 947.9,289 948.2,285 948.5,252 948.8,259 949.1,284 949.4,307 949.8,272 950.1,282 950.4,266 950.7,222 951.0,231 951.3,262 951.6,259 952.0,278 952.3,289 952.6,294 952.9,268 953.2,281 953.5,293 953.8,292 954.2,267 954.5,252 954.8,257 955.1,240 955.4,240 955.7,289 956.0,310 956.4,309 956.7,291 957.0,296 957.3,315 957.6,315 957.9,294 958.3,295 958.6,310 958.9,304 959.2,303 959.5,307 959.8,317 960.1,311 960.5,286 960.8,278 961.1,273 961.4,278 961.7,315 962.0,337 962.3,325 962.7,309 963.0,224 963.3,302 963.6,288 963.9,274 964.2,234 964.5,243 964.9,308 965.2,317 965.5,336 965.8,307 966.1,276 966.4,289 966.7,277 967.1,267 967.4,295 967.7,302 968.0,314 968.3,354 968.6,322 968.9,313 969.3,331 969.6,318 969.9,295 970.2,296 970.5,305 970.8,330 971.1,298 971.5,278 971.8,293 972.1,310 972.4,302 972.7,307 973.0,312 973.3,287 973.7,244 974.0,247 974.3,268 974.6,293 974.9,312 975.2,295 975.5,274 975.9,293 976.2,289 976.5,267 976.8,250 977.1,272 977.4,327 977.8,356 978.1,312 978.4,281 978.7,260 979.0,280 979.3,300 979.6,302 980.0,285 980.3,302 980.6,279 980.9,267 981.2,253 981.5,283 981.8,326 982.2,337 982.5,337 982.8,314 983.1,267 983.4,258 983.7,304 984.0,311 984.4,207 984.7,285 985.0,280 985.3,305 985.6,315 985.9,278 986.2,268 986.6,259 986.9,286 987.2,306 987.5,307 987.8,303 988.1,277 988.4,266 988.8,285 989.1,303 989.4,335 989.7,340 990.0,356 990.3,318 990.6,283 991.0,274 991.3,257 991.6,271 991.9,281 992.2,289 992.5,289 992.8,296 993.2,311 993.5,302 993.8,303 994.1,273 994.4,256 994.7,248 995.0,274 995.4,297 995.7,293 996.0,293 996.3,291 996.6,270 996.9,290 997.3,300 997.6,314 997.9,327 998.2,351 998.5,336 998.8,301 999.1,270 999.5,262 999.8,283 1000.1,297 1000.4,295 1000.7,274 1001.0,267 1001.3,293 1001.7,316 1002.0,320 1002.3,329 1002.6,329 1002.9,292 1003.2,288 1003.5,279 1003.9,293 1004.2,288 1004.5,281 1004.8,258 1005.1,255 1005.4,280 1005.7,300 1006.1,321 1006.4,318 1006.7,315 1007.0,312 1007.3,308 1007.6,312 1007.9,297 1008.3,309 1008.6,319 1008.9,277 1009.2,234 1009.5,247 1009.8,283 1010.1,294 1010.5,332 1010.8,325 1011.1,316 1011.4,318 1011.7,297 1012.0,266 1012.3,259 1012.7,261 1013.0,287 1013.3,282 1013.6,298 1013.9,333 1014.2,328 1014.5,302 1014.9,291 1015.2,286 1015.5,274 1015.8,258 1016.1,291 1016.4,294 1016.8,296 1017.1,302 1017.4,310 1017.7,310 1018.0,288 1018.3,284 1018.6,293 1019.0,279 1019.3,286 1019.6,267 1019.9,270 1020.2,266 1020.5,262 1020.8,283 1021.2,277 1021.5,286 1021.8,303 1022.1,289 1022.4,282 1022.7,298 1023.0,296 1023.4,293 1023.7,300 1024.0,383 1024.3,319 1024.6,303 1024.9,314 1025.2,316 1025.6,301 1025.9,272 1026.2,276 1026.5,286 1026.8,285 1027.1,299 1027.4,313 1027.8,319 1028.1,295 1028.4,269 1028.7,252 1029.0,263 1029.3,298 1029.6,325 1030.0,336 1030.3,301 1030.6,279 1030.9,265 1031.2,269 1031.5,285 1031.8,300 1032.2,280 1032.5,289 1032.8,288 1033.1,294 1033.4,275 1033.7,275 1034.0,286 1034.4,313 1034.7,294 1035.0,279 1035.3,262 1035.6,251 1035.9,205 1036.3,295 1036.6,305 1036.9,303 1037.2,292 1037.5,282 1037.8,266 1038.1,278 1038.5,297 1038.8,300 1039.1,315 1039.4,311 1039.7,289 1040.0,284 1040.3,292 1040.7,281 1041.0,285 1041.3,298 1041.6,297 1041.9,301 1042.2,309 1042.5,288 1042.9,286 1043.2,280 1043.5,271 1043.8,278 1044.1,281 1044.4,288 1044.7,286 1045.1,274 1045.4,277 1045.7,280 1046.0,285 1046.3,282 1046.6,286 1046.9,288 1047.3,300 1047.6,295 1047.9,293 1048.2,281 1048.5,259 1048.8,269 1049.1,282 1049.5,293 1049.8,307 1050.1,292 1050.4,275 1050.7,265 1051.0,266 1051.3,303 1051.7,314 1052.0,309 1052.3,290 1052.6,281 1052.9,278 1053.2,296 1053.5,297 1053.9,302 1054.2,294 1054.5,286 1054.8,277 1055.1,284 1055.4,287 1055.8,298 1056.1,299 1056.4,289 1056.7,274 1057.0,280 1057.3,274 1057.6,283 1058.0,269 1058.3,276 1058.6,288 1058.9,293 1059.2,299 1059.5,283 1059.8,273 1060.2,281 1060.5,299 1060.8,303 1061.1,300 1061.4,292 1061.7,294 1062.0,284 1062.4,259 1062.7,271 1063.0,291 1063.3,287 1063.6,289 1063.9,304 1064.2,323 1064.6,313 1064.9,309 1065.2,287 1065.5,284 1065.8,295 1066.1,288 1066.4,273 1066.8,293 1067.1,312 1067.4,330 1067.7,316 1068.0,289 1068.3,295 1068.6,335 1069.0,274 1069.3,271 1069.6,285 1069.9,298 1070.2,278 1070.5,277 1070.8,263 1071.2,290 1071.5,290 1071.8,283 1072.1,283 1072.4,282 1072.7,296 1073.0,293 1073.4,294 1073.7,296 1074.0,297 1074.3,282 1074.6,295 1074.9,290 1075.3,278 1075.6,275 1075.9,282 1076.2,264 1076.5,264 1076.8,287 1077.1,302 1077.5,304 1077.8,307 1078.1,302 1078.4,280 1078.7,298 1079.0,266 1079.3,256 1079.7,267 1080.0,302 1080.3,309 1080.6,310 1080.9,271 1081.2,252 1081.5,258 1081.9,278 1082.2,285 1082.5,300 1082.8,299 1083.1,289 1083.4,283 1083.7,289 1084.1,282 1084.4,282 1084.7,281 1085.0,295 1085.3,299 1085.6,283 1085.9,278 1086.3,271 1086.6,281 1086.9,288 1087.2,296 1087.5,298 1087.8,287 1088.1,283 1088.5,285 1088.8,289 1089.1,292 1089.4,289 1089.7,271 1090.0,254 1090.3,263 1090.7,293 1091.0,313 1091.3,305 1091.6,295 1091.9,286 1092.2,269 1092.5,264 1092.9,211 1093.2,270 1093.5,304 1093.8,311 1094.1,290 1094.4,281 1094.8,290 1095.1,284 1095.4,290 1095.7,295 1096.0,290 1096.3,285 1096.6,298 1097.0,321 1097.3,288 1097.6,273 1097.9,282 1098.2,276 1098.5,274 1098.8,284 1099.2,297 1099.5,303 1099.8,286 1100.1,280 1100.4,287 1100.7,300 1101.0,288 1101.4,297 1101.7,292 1102.0,305 1102.3,290 1102.6,265 1102.9,264 1103.2,283 1103.6,288 1103.9,292 1104.2,274 1104.5,259 1104.8,261 1105.1,215 1105.4,301 1105.8,312 1106.1,305 1106.4,294 1106.7,275 1107.0,285 1107.3,286 1107.6,282 1108.0,340 1108.3,306 1108.6,303 1108.9,295 1109.2,282 1109.5,274 1109.8,282 1110.2,305 1110.5,260 1110.8,304 1111.1,301 1111.4,250 1111.7,278 1112.0,269 1112.4,280 1112.7,271 1113.0,265 1113.3,274 1113.6,291 1113.9,281 1114.2,277 1114.6,347 1114.9,289 1115.2,301 1115.5,310 1115.8,306 1116.1,293 1116.5,288 1116.8,295 1117.1,306 1117.4,308 1117.7,327 1118.0,285 1118.3,272 1118.7,296 1119.0,306 1119.3,310 1119.6,309 1119.9,306 1120.2,297 1120.5,283 1120.9,287 1121.2,266 1121.5,264 1121.8,268 1122.1,274 1122.4,290 1122.7,288 1123.1,285 1123.4,276 1123.7,278 1124.0,281 1124.3,293 1124.6,310 1124.9,307 1125.3,288 1125.6,292 1125.9,296 1126.2,302 1126.5,304 1126.8,263 1127.1,281 1127.5,276 1127.8,276 1128.1,283 1128.4,287 1128.7,305 1129.0,305 1129.3,299 1129.7,274 1130.0,276 1130.3,269 1130.6,279 1130.9,288 1131.2,305 1131.5,313 1131.9,317 1132.2,317 1132.5,289 1132.8,284 1133.1,293 1133.4,350 1133.7,298 1134.1,276 1134.4,275 1134.7,288 1135.0,304 1135.3,292 1135.6,282 1136.0,281 1136.3,282 1136.6,226 1136.9,259 1137.2,249 1137.5,253 1137.8,260 1138.2,278 1138.5,301 1138.8,340 1139.1,330 1139.4,315 1139.7,303 1140.0,285 1140.4,267 1140.7,263 1141.0,279 1141.3,297 1141.6,299 1141.9,309 1142.2,269 1142.6,311 1142.9,301 1143.2,277 1143.5,266 1143.8,272 1144.1,297 1144.4,296 1144.8,278 1145.1,253 1145.4,263 1145.7,262 1146.0,281 1146.3,283 1146.6,296 1147.0,296 1147.3,305 1147.6,302 1147.9,291 1148.2,285 1148.5,281 1148.8,284 1149.2,283 1149.5,287 1149.8,297 1150.1,298 1150.4,306 1150.7,292 1151.0,298 1151.4,284 1151.7,291 1152.0,289 1152.3,342 1152.6,291 1152.9,282 1153.2,284 1153.6,275 1153.9,265 1154.2,268 1154.5,281 1154.8,300 1155.1,314 1155.5,298 1155.8,291 1156.1,258 1156.4,289 1156.7,299 1157.0,306 1157.3,307 1157.7,290 1158.0,288 1158.3,285 1158.6,295 1158.9,301 1159.2,295 1159.5,299 1159.9,302 1160.2,306 1160.5,300 1160.8,292 1161.1,303 1161.4,306 1161.7,309 1162.1,311 1162.4,290 1162.7,275 1163.0,279 1163.3,301 1163.6,300 1163.9,292 1164.3,280 1164.6,280 1164.9,303 1165.2,316 1165.5,294 1165.8,276 1166.1,287 1166.5,302 1166.8,285 1167.1,278 1167.4,277 1167.7,290 1168.0,298 1168.3,301 1168.7,288 1169.0,292 1169.3,296 1169.6,300 1169.9,304 1170.2,296 1170.5,278 1170.9,264 1171.2,267 1171.5,300 1171.8,306 1172.1,296 1172.4,287 1172.7,282 1173.1,278 1173.4,286 1173.7,292 1174.0,276 1174.3,282 1174.6,272 1175.0,276 1175.3,270 1175.6,274 1175.9,338 1176.2,274 1176.5,280 1176.8,293 1177.2,303 1177.5,285 1177.8,282 1178.1,270 1178.4,278 1178.7,275 1179.0,273 1179.4,268 1179.7,274 1180.0,286 1180.3,307 1180.6,294 1180.9,280 1181.2,287 1181.6,309 1181.9,324 1182.2,323 1182.5,311 1182.8,313 1183.1,371 1183.4,288 1183.8,265 1184.1,252 1184.4,258 1184.7,280 1185.0,293 1185.3,297 1185.6,300 1186.0,292 1186.3,288 1186.6,278 1186.9,268 1187.2,271 1187.5,263 1187.8,275 1188.2,289 1188.5,285 1188.8,289 1189.1,289 1189.4,281 1189.7,292 1190.0,292 1190.4,275 1190.7,275 1191.0,296 1191.3,294 1191.6,296 1191.9,289 1192.2,288 1192.6,289 1192.9,277 1193.2,268 1193.5,278 1193.8,302 1194.1,311 1194.5,317 1194.8,327 1195.1,310 1195.4,291 1195.7,284 1196.0,284 1196.3,299 1196.7,296 1197.0,300 1197.3,275 1197.6,267 1197.9,268 1198.2,288 1198.5,292 1198.9,305 1199.2,310 1199.5,312 1199.8,284 1200.1,271 1200.4,252 1200.7,254 1201.1,267 1201.4,294 1201.7,305 1202.0,350 1202.3,292 1202.6,270 1202.9,272 1203.3,281 1203.6,301 1203.9,291 1204.2,290" fill="none" stroke="#a0a0a0" stroke-width="0.5" clip-path="url(#clip1)"/>
<path d="M868.3,245 868.6,212 868.9,306 869.2,305 869.6,290 869.9,282 870.2,304 870.5,309 870.8,295 871.1,304 871.4,267 871.8,242 872.1,270 872.4,289 872.7,302 873.0,295 873.3,279 873.6,288 874.0,315 874.3,302 874.6,298 874.9,270 875.2,270 875.5,280 875.8,308 876.2,301 876.5,283 876.8,287 877.1,325 877.4,297 877.7,274 878.0,301 878.4,305 878.7,312 879.0,319 879.3,282 879.6,287 879.9,234 880.3,291 880.6,320 880.9,305 881.2,268 881.5,276 881.8,311 882.1,312 882.5,206 882.8,286 883.1,276 883.4,275 883.7,277 884.0,280 884.3,297 884.7,295 885.0,306 885.3,297 885.6,283 885.9,249 886.2,279 886.5,323 886.9,329 887.2,320 887.5,301 887.8,266 888.1,258 888.4,284 888.7,287 889.1,271 889.4,264 889.7,305 890.0,322 890.3,288 890.6,265 890.9,259 891.3,304 891.6,303 891.9,306 892.2,307 892.5,309 892.8,296 893.1,280 893.5,275 893.8,266 894.1,278 894.4,299 894.7,294 895.0,277 895.3,307 895.7,293 896.0,313 896.3,278 896.6,265 896.9,278 897.2,305 897.5,314 897.9,306 898.2,264 898.5,256 898.8,247 899.1,299 899.4,328 899.8,323 900.1,278 900.4,283 900.7,263 901.0,286 901.3,305 901.6,307 902.0,288 902.3,268 902.6,266 902.9,291 903.2,299 903.5,294 903.8,265 904.2,276 904.5,298 904.8,308 905.1,319 905.4,303 905.7,285 906.0,270 906.4,300 906.7,318 907.0,278 907.3,265 907.6,265 907.9,294 908.2,318 908.6,342 908.9,331 909.2,297 909.5,284 909.8,282 910.1,298 910.4,283 910.8,297 911.1,308 911.4,273 911.7,266 912.0,261 912.3,289 912.6,302 913.0,277 913.3,287 913.6,304 913.9,302 914.2,278 914.5,266 914.8,269 915.2,292 915.5,276 915.8,261 916.1,275 916.4,306 916.7,310 917.0,298 917.4,253 917.7,280 918.0,326 918.3,343 918.6,302 918.9,306 919.3,291 919.6,280 919.9,300 920.2,324 920.5,295 920.8,288 921.1,283 921.5,303 921.8,309 922.1,249 922.4,255 922.7,271 923.0,277 923.3,296 923.7,310 924.0,307 924.3,280 924.6,305 924.9,302 925.2,278 925.5,290 925.9,277 926.2,273 926.5,239 926.8,260 927.1,293 927.4,285 927.7,334 928.1,338 928.4,283 928.7,224 929.0,253 929.3,270 929.6,292 929.9,290 930.3,263 930.6,263 930.9,303 931.2,325 931.5,307 931.8,285 932.1,274 932.5,265 932.8,293 933.1,272 933.4,280 933.7,296 934.0,275 934.3,293 934.7,297 935.0,256 935.3,282 935.6,328 935.9,317 936.2,276 936.5,266 936.9,274 937.2,297 937.5,286 937.8,285 938.1,288 938.4,289 938.8,257 939.1,256 939.4,294 939.7,292 940.0,286 940.3,282 940.6,279 941.0,298 941.3,279 941.6,294 941.9,275 942.2,264 942.5,265 942.8,289 943.2,298 943.5,303 943.8,286 944.1,277 944.4,268 944.7,264 945.0,290 945.4,302 945.7,301 946.0,302 946.3,315 946.6,290 946.9,291 947.2,271 947.6,290 947.9,294 948.2,286 948.5,265 948.8,293 949.1,294 949.4,300 949.8,299 950.1,293 950.4,287 950.7,284 951.0,281 951.3,273 951.6,289 952.0,314 952.3,310 952.6,298 952.9,320 953.2,324 953.5,272 953.8,271 954.2,256 954.5,287 954.8,291 955.1,297 955.4,254 955.7,295 956.0,314 956.4,304 956.7,292 957.0,267 957.3,284 957.6,315 957.9,275 958.3,275 958.6,269 958.9,290 959.2,315 959.5,286 959.8,278 960.1,290 960.5,295 960.8,299 961.1,288 961.4,277 961.7,306 962.0,311 962.3,272 962.7,279 963.0,296 963.3,276 963.6,276 963.9,293 964.2,279 964.5,279 964.9,313 965.2,299 965.5,294 965.8,296 966.1,287 966.4,313 966.7,320 967.1,311 967.4,307 967.7,259 968.0,302 968.3,312 968.6,289 968.9,282 969.3,289 969.6,288 969.9,277 970.2,268 970.5,288 970.8,261 971.1,259 971.5,291 971.8,301 972.1,283 972.4,282 972.7,285 973.0,277 973.3,282 973.7,280 974.0,277 974.3,277 974.6,279 974.9,275 975.2,277 975.5,280 975.9,303 976.2,315 976.5,306 976.8,290 977.1,251 977.4,259 977.8,274 978.1,307 978.4,302 978.7,303 979.0,288 979.3,271 979.6,235 980.0,268 980.3,290 980.6,302 980.9,312 981.2,307 981.5,299 981.8,286 982.2,306 982.5,308 982.8,291 983.1,274 983.4,257 983.7,252 984.0,299 984.4,296 984.7,308 985.0,301 985.3,287 985.6,267 985.9,269 986.2,277 986.6,284 986.9,298 987.2,291 987.5,270 987.8,274 988.1,278 988.4,293 988.8,302 989.1,300 989.4,266 989.7,266 990.0,306 990.3,325 990.6,292 991.0,258 991.3,282 991.6,317 991.9,333 992.2,319 992.5,297 992.8,293 993.2,288 993.5,284 993.8,284 994.1,281 994.4,283 994.7,295 995.0,294 995.4,290 995.7,294 996.0,293 996.3,273 996.6,288 996.9,295 997.3,287 997.6,298 997.9,294 998.2,301 998.5,271 998.8,271 999.1,271 999.5,268 999.8,291 1000.1,306 1000.4,321 1000.7,312 1001.0,271 1001.3,310 1001.7,278 1002.0,304 1002.3,327 1002.6,318 1002.9,304 1003.2,275 1003.5,268 1003.9,280 1004.2,263 1004.5,271 1004.8,276 1005.1,288 1005.4,268 1005.7,292 1006.1,304 1006.4,325 1006.7,295 1007.0,276 1007.3,296 1007.6,308 1007.9,305 1008.3,290 1008.6,275 1008.9,287 1009.2,302 1009.5,303 1009.8,298 1010.1,287 1010.5,282 1010.8,290 1011.1,288 1011.4,282 1011.7,280 1012.0,284 1012.3,296 1012.7,275 1013.0,283 1013.3,307 1013.6,284 1013.9,279 1014.2,305 1014.5,302 1014.9,304 1015.2,288 1015.5,288 1015.8,279 1016.1,296 1016.4,298 1016.8,289 1017.1,298 1017.4,303 1017.7,304 1018.0,315 1018.3,286 1018.6,259 1019.0,276 1019.3,297 1019.6,324 1019.9,313 1020.2,300 1020.5,284 1020.8,305 1021.2,281 1021.5,257 1021.8,278 1022.1,300 1022.4,287 1022.7,284 1023.0,296 1023.4,306 1023.7,295 1024.0,276 1024.3,285 1024.6,279 1024.9,295 1025.2,290 1025.6,297 1025.9,300 1026.2,305 1026.5,284 1026.8,322 1027.1,282 1027.4,278 1027.8,299 1028.1,315 1028.4,306 1028.7,304 1029.0,292 1029.3,275 1029.6,266 1030.0,257 1030.3,301 1030.6,287 1030.9,278 1031.2,267 1031.5,278 1031.8,287 1032.2,285 1032.5,292 1032.8,284 1033.1,274 1033.4,273 1033.7,289 1034.0,289 1034.4,310 1034.7,304 1035.0,295 1035.3,284 1035.6,275 1035.9,273 1036.3,287 1036.6,299 1036.9,299 1037.2,298 1037.5,305 1037.8,285 1038.1,279 1038.5,269 1038.8,286 1039.1,285 1039.4,281 1039.7,297 1040.0,298 1040.3,293 1040.7,289 1041.0,282 1041.3,279 1041.6,299 1041.9,290 1042.2,295 1042.5,277 1042.9,260 1043.2,263 1043.5,279 1043.8,309 1044.1,317 1044.4,290 1044.7,279 1045.1,287 1045.4,294 1045.7,295 1046.0,285 1046.3,264 1046.6,297 1046.9,278 1047.3,283 1047.6,299 1047.9,291 1048.2,269 1048.5,278 1048.8,291 1049.1,289 1049.5,283 1049.8,299 1050.1,285 1050.4,285 1050.7,306 1051.0,296 1051.3,289 1051.7,280 1052.0,285 1052.3,278 1052.6,288 1052.9,295 1053.2,296 1053.5,288 1053.9,286 1054.2,281 1054.5,275 1054.8,293 1055.1,298 1055.4,296 1055.8,296 1056.1,290 1056.4,280 1056.7,291 1057.0,301 1057.3,298 1057.6,289 1058.0,287 1058.3,281 1058.6,278 1058.9,282 1059.2,290 1059.5,298 1059.8,295 1060.2,287 1060.5,283 1060.8,282 1061.1,281 1061.4,299 1061.7,293 1062.0,295 1062.4,317 1062.7,271 1063.0,278 1063.3,298 1063.6,303 1063.9,288 1064.2,280 1064.6,297 1064.9,301 1065.2,293 1065.5,290 1065.8,277 1066.1,278 1066.4,285 1066.8,283 1067.1,279 1067.4,288 1067.7,298 1068.0,306 1068.3,299 1068.6,295 1069.0,286 1069.3,285 1069.6,294 1069.9,286 1070.2,293 1070.5,242 1070.8,292 1071.2,294 1071.5,281 1071.8,293 1072.1,282 1072.4,267 1072.7,283 1073.0,285 1073.4,285 1073.7,284 1074.0,319 1074.3,291 1074.6,296 1074.9,297 1075.3,294 1075.6,288 1075.9,245 1076.2,282 1076.5,289 1076.8,298 1077.1,265 1077.5,285 1077.8,283 1078.1,298 1078.4,298 1078.7,295 1079.0,286 1079.3,292 1079.7,295 1080.0,296 1080.3,299 1080.6,277 1080.9,268 1081.2,285 1081.5,292 1081.9,287 1082.2,279 1082.5,279 1082.8,285 1083.1,291 1083.4,295 1083.7,298 1084.1,279 1084.4,280 1084.7,302 1085.0,306 1085.3,302 1085.6,287 1085.9,289 1086.3,285 1086.6,281 1086.9,285 1087.2,294 1087.5,291 1087.8,299 1088.1,301 1088.5,290 1088.8,280 1089.1,282 1089.4,287 1089.7,306 1090.0,299 1090.3,293 1090.7,286 1091.0,290 1091.3,293 1091.6,289 1091.9,295 1092.2,305 1092.5,289 1092.9,265 1093.2,283 1093.5,293 1093.8,291 1094.1,290 1094.4,296 1094.8,289 1095.1,286 1095.4,271 1095.7,274 1096.0,275 1096.3,279 1096.6,297 1097.0,305 1097.3,290 1097.6,266 1097.9,261 1098.2,278 1098.5,306 1098.8,318 1099.2,297 1099.5,283 1099.8,275 1100.1,261 1100.4,273 1100.7,289 1101.0,292 1101.4,302 1101.7,289 1102.0,275 1102.3,271 1102.6,287 1102.9,304 1103.2,302 1103.6,295 1103.9,291 1104.2,278 1104.5,283 1104.8,284 1105.1,285 1105.4,290 1105.8,258 1106.1,290 1106.4,302 1106.7,302 1107.0,292 1107.3,290 1107.6,291 1108.0,280 1108.3,286 1108.6,283 1108.9,300 1109.2,304 1109.5,285 1109.8,268 1110.2,264 1110.5,299 1110.8,322 1111.1,313 1111.4,287 1111.7,264 1112.0,265 1112.4,282 1112.7,262 1113.0,302 1113.3,283 1113.6,275 1113.9,274 1114.2,279 1114.6,286 1114.9,291 1115.2,305 1115.5,302 1115.8,307 1116.1,283 1116.5,264 1116.8,267 1117.1,295 1117.4,290 1117.7,292 1118.0,283 1118.3,283 1118.7,295 1119.0,300 1119.3,307 1119.6,287 1119.9,276 1120.2,274 1120.5,300 1120.9,300 1121.2,296 1121.5,305 1121.8,300 1122.1,286 1122.4,281 1122.7,279 1123.1,303 1123.4,310 1123.7,284 1124.0,276 1124.3,284 1124.6,287 1124.9,279 1125.3,290 1125.6,304 1125.9,294 1126.2,288 1126.5,272 1126.8,276 1127.1,284 1127.5,312 1127.8,314 1128.1,293 1128.4,288 1128.7,242 1129.0,285 1129.3,277 1129.7,293 1130.0,298 1130.3,288 1130.6,289 1130.9,286 1131.2,279 1131.5,274 1131.9,279 1132.2,287 1132.5,298 1132.8,293 1133.1,279 1133.4,288 1133.7,293 1134.1,286 1134.4,294 1134.7,277 1135.0,271 1135.3,270 1135.6,282 1136.0,291 1136.3,303 1136.6,297 1136.9,288 1137.2,273 1137.5,270 1137.8,283 1138.2,292 1138.5,291 1138.8,292 1139.1,276 1139.4,262 1139.7,275 1140.0,292 1140.4,297 1140.7,309 1141.0,298 1141.3,282 1141.6,283 1141.9,291 1142.2,292 1142.6,284 1142.9,293 1143.2,298 1143.5,306 1143.8,292 1144.1,280 1144.4,282 1144.8,277 1145.1,294 1145.4,291 1145.7,279 1146.0,271 1146.3,274 1146.6,299 1147.0,304 1147.3,304 1147.6,293 1147.9,298 1148.2,289 1148.5,275 1148.8,268 1149.2,291 1149.5,310 1149.8,298 1150.1,282 1150.4,284 1150.7,287 1151.0,289 1151.4,298 1151.7,287 1152.0,289 1152.3,288 1152.6,282 1152.9,283 1153.2,283 1153.6,292 1153.9,295 1154.2,290 1154.5,277 1154.8,273 1155.1,284 1155.5,254 1155.8,294 1156.1,281 1156.4,288 1156.7,297 1157.0,291 1157.3,293 1157.7,287 1158.0,283 1158.3,297 1158.6,287 1158.9,292 1159.2,300 1159.5,311 1159.9,300 1160.2,294 1160.5,278 1160.8,264 1161.1,284 1161.4,323 1161.7,295 1162.1,301 1162.4,287 1162.7,277 1163.0,295 1163.3,298 1163.6,298 1163.9,288 1164.3,288 1164.6,290 1164.9,289 1165.2,288 1165.5,292 1165.8,291 1166.1,284 1166.5,278 1166.8,295 1167.1,311 1167.4,300 1167.7,289 1168.0,281 1168.3,288 1168.7,286 1169.0,277 1169.3,283 1169.6,252 1169.9,297 1170.2,290 1170.5,296 1170.9,292 1171.2,293 1171.5,292 1171.8,287 1172.1,304 1172.4,322 1172.7,312 1173.1,291 1173.4,275 1173.7,275 1174.0,285 1174.3,297 1174.6,300 1175.0,294 1175.3,285 1175.6,281 1175.9,286 1176.2,291 1176.5,294 1176.8,295 1177.2,288 1177.5,271 1177.8,278 1178.1,285 1178.4,287 1178.7,314 1179.0,293 1179.4,283 1179.7,275 1180.0,275 1180.3,280 1180.6,280 1180.9,302 1181.2,310 1181.6,304 1181.9,279 1182.2,264 1182.5,277 1182.8,304 1183.1,309 1183.4,286 1183.8,275 1184.1,285 1184.4,279 1184.7,279 1185.0,281 1185.3,287 1185.6,301 1186.0,285 1186.3,268 1186.6,278 1186.9,282 1187.2,287 1187.5,276 1187.8,278 1188.2,285 1188.5,299 1188.8,264 1189.1,307 1189.4,299 1189.7,290 1190.0,273 1190.4,268 1190.7,276 1191.0,286 1191.3,291 1191.6,293 1191.9,288 1192.2,277 1192.6,287 1192.9,288 1193.2,292 1193.5,287 1193.8,294 1194.1,296 1194.5,292 1194.8,260 1195.1,268 1195.4,284 1195.7,290 1196.0,322 1196.3,281 1196.7,293 1197.0,299 1197.3,287 1197.6,266 1197.9,275 1198.2,284 1198.5,300 1198.9,295 1199.2,286 1199.5,287 1199.8,300 1200.1,298 1200.4,274 1200.7,266 1201.1,286 1201.4,320 1201.7,307 1202.0,285 1202.3,278 1202.6,283 1202.9,294 1203.3,284 1203.6,293 1203.9,309 1204.2,303" fill="none" stroke="#5c5c5c" stroke-width="0.42" clip-path="url(#clip1)"/>
<line x1="868.30" y1="127.40" x2="1321.20" y2="127.40" stroke="#ffff00" stroke-width="3" />
<line x1="868.30" y1="168.30" x2="1321.20" y2="168.30" stroke="#00ff00" stroke-width="3" />
<line x1="868.30" y1="410.30" x2="1321.20" y2="410.30" stroke="#00ff00" stroke-width="3" />
<path d="M868.6,266.7 869.6,265.1 870.6,261.4 871.6,272.4 872.6,282.5 873.8,281.3 874.9,277.9 876.1,275.6 877.2,273.3 878.2,272.0 879.2,272.5 880.2,275.7 881.2,275.9 882.5,282.7 883.8,295.2 885.1,303.7 886.2,297.2 887.4,291.3 888.6,284.5 889.7,279.9 890.7,283.9 891.7,288.3 892.7,293.5 893.7,298.1 894.7,302.2 895.7,307.6 896.8,305.1 897.9,304.1 899.0,301.0 900.0,306.2 901.0,312.4 902.0,316.9 903.0,322.2 904.3,316.3 905.6,315.9 906.9,310.3 908.0,311.1 909.1,312.8 910.2,312.5 911.3,310.7 912.4,313.4 913.5,312.9 914.7,321.3 915.9,327.2 917.0,337.3 918.2,346.0 919.3,339.7 920.3,336.8 921.4,331.1 922.4,322.1 923.5,319.5 924.6,321.1 925.7,324.6 926.8,326.2 928.1,339.7 929.4,352.7 930.7,368.5 931.8,360.3 932.9,347.0 934.0,340.7 935.2,343.7 936.4,344.7 937.5,344.8 938.7,346.0 940.0,336.3 941.3,320.4 942.6,311.6 943.6,303.3 944.6,297.0 945.6,288.8 946.6,282.5 947.9,293.3 949.2,305.0 950.5,316.9 951.7,316.4 952.9,318.8 954.0,320.5 955.2,319.5 956.5,303.4 957.8,285.4 959.1,270.6 960.2,274.1 961.3,279.4 962.4,285.2 963.5,278.4 964.6,271.9 965.7,265.3 966.8,266.4 967.8,273.0 968.9,271.8 969.9,276.8 971.0,279.9 972.2,289.2 973.4,297.6 974.5,306.5 975.7,315.6 976.8,298.2 977.8,284.8 978.9,268.0 979.9,250.7 981.0,236.3 982.1,232.8 983.2,230.1 984.3,225.7 985.4,221.3 986.5,218.9 987.6,215.1 988.7,220.0 989.8,230.8 990.9,233.6 992.0,237.0 993.1,244.1 994.2,249.5 995.3,253.0 996.4,257.5 997.5,261.4 998.8,247.9 1000.1,232.3 1001.2,234.0 1002.2,237.7 1003.3,240.2 1004.3,245.4 1005.4,245.5 1006.5,254.5 1007.7,265.2 1008.9,273.0 1010.0,282.5 1011.4,271.9 1012.7,262.7 1013.8,261.7 1014.8,258.6 1015.9,254.5 1016.9,251.6 1018.0,248.2 1019.1,260.8 1020.1,272.0 1021.2,282.9 1022.2,297.6 1023.3,307.6 1024.4,301.3 1025.5,293.8 1026.6,289.1 1027.8,288.0 1029.0,289.3 1030.1,292.4 1031.3,291.8 1032.5,289.1 1033.7,293.5 1034.8,294.7 1035.9,299.7 1037.1,303.7 1038.3,303.3 1039.4,305.0 1040.6,306.8 1041.7,308.1 1042.9,307.9 1044.0,311.1 1045.1,314.8 1046.2,320.2 1047.4,321.6 1048.5,328.0 1049.6,331.4 1050.7,335.2 1051.8,330.8 1052.9,323.2 1054.0,320.2 1055.1,313.8 1056.2,318.1 1057.3,318.1 1058.3,322.5 1059.4,323.2 1060.5,329.3 1061.7,327.8 1062.9,328.2 1064.1,323.8 1065.3,321.6 1066.4,320.0 1067.4,317.8 1068.5,318.3 1069.6,316.8 1070.6,314.5 1071.7,313.8 1072.9,312.9 1074.0,315.2 1075.2,316.6 1076.3,318.8 1077.5,318.6 1079.0,304.0 1080.1,306.2 1081.1,307.6 1082.2,308.8 1083.2,310.4 1084.3,310.8 1085.3,308.2 1086.4,303.1 1087.4,301.8 1088.5,300.9 1089.5,297.1 1090.6,294.3 1091.6,297.1 1092.7,301.7 1093.7,304.1 1094.8,307.5 1095.8,311.1 1096.8,315.0 1097.9,318.0 1098.9,320.6 1100.0,316.8 1101.1,313.9 1102.2,309.8 1103.3,308.9 1104.3,302.9 1105.4,296.6 1106.4,291.7 1107.5,288.3 1108.5,280.6 1109.6,275.8 1110.7,279.2 1111.8,280.5 1112.8,283.7 1113.9,284.8 1115.0,288.4 1116.1,291.7 1117.2,297.8 1118.3,301.3 1119.4,305.0 1120.5,305.2 1121.6,303.2 1122.7,298.0 1123.8,300.1 1125.2,300.5 1126.7,303.0 1128.2,301.6 1129.6,298.2 1130.8,305.2 1132.0,309.6 1133.3,314.1 1134.5,320.6 1136.0,307.3 1137.4,297.2 1138.9,315.7 1140.0,312.3 1141.1,309.0 1142.1,304.9 1143.2,300.1 1144.4,302.9 1145.6,299.3 1146.7,301.5 1147.9,301.6 1149.1,302.1 1150.3,298.6 1151.5,295.3 1152.8,294.4 1154.0,292.3 1155.1,293.3 1156.3,292.1 1157.4,291.7 1158.5,293.9 1159.7,292.6 1160.8,293.3 1161.8,296.1 1162.9,294.7 1163.9,296.2 1165.0,300.5 1166.0,302.3 1167.1,302.1 1168.2,299.4 1169.4,299.0 1170.5,298.3 1171.6,294.4 1172.8,293.5 1173.9,293.3 1175.1,294.0 1176.3,295.6 1177.6,296.6 1178.8,299.2 1179.8,295.7 1180.9,294.0 1181.9,295.1 1183.0,290.5 1184.0,287.3 1185.1,288.4 1186.3,290.4 1187.5,286.5 1188.6,284.8 1189.8,283.1 1191.0,282.6 1192.3,286.5 1193.6,290.1 1194.9,292.3 1196.1,294.4 1197.3,298.0 1198.5,300.4 1199.7,306.0 1200.7,301.8 1201.7,293.2 1202.7,289.4 1204.5,289.3" fill="none" stroke="#0000ff" stroke-width="4.8" stroke-linejoin="round" stroke-linecap="round" />
<line x1="1204.50" y1="289.30" x2="1321.20" y2="289.30" stroke="#0000ff" stroke-width="4" />
<line x1="868.30" y1="289.30" x2="1321.20" y2="289.30" stroke="#000000" stroke-width="1.1" stroke-dasharray="20.6,12.7"/>
<line x1="868.50" y1="108.00" x2="868.50" y2="419.00" stroke="#0000ff" stroke-width="1"/>
<line x1="1321.50" y1="108.00" x2="1321.50" y2="419.00" stroke="#262626" stroke-width="1"/>
<line x1="868.00" y1="418.50" x2="1322.00" y2="418.50" stroke="#262626" stroke-width="1"/>
<line x1="868.50" y1="413.50" x2="868.50" y2="418.00" stroke="#262626" stroke-width="1"/>
<text x="861.69" y="448.00" font-size="22.2" fill="#262626" textLength="13.23" lengthAdjust="spacingAndGlyphs">0</text>
<line x1="924.50" y1="413.50" x2="924.50" y2="418.00" stroke="#262626" stroke-width="1"/>
<text x="918.30" y="448.00" font-size="22.2" fill="#262626" textLength="13.23" lengthAdjust="spacingAndGlyphs">3</text>
<line x1="981.50" y1="413.50" x2="981.50" y2="418.00" stroke="#262626" stroke-width="1"/>
<text x="974.91" y="448.00" font-size="22.2" fill="#262626" textLength="13.23" lengthAdjust="spacingAndGlyphs">6</text>
<line x1="1038.50" y1="413.50" x2="1038.50" y2="418.00" stroke="#262626" stroke-width="1"/>
<text x="1031.52" y="448.00" font-size="22.2" fill="#262626" textLength="13.23" lengthAdjust="spacingAndGlyphs">9</text>
<line x1="1094.50" y1="413.50" x2="1094.50" y2="418.00" stroke="#262626" stroke-width="1"/>
<text x="1081.52" y="448.00" font-size="22.2" fill="#262626" textLength="26.46" lengthAdjust="spacingAndGlyphs">12</text>
<line x1="1151.50" y1="413.50" x2="1151.50" y2="418.00" stroke="#262626" stroke-width="1"/>
<text x="1138.13" y="448.00" font-size="22.2" fill="#262626" textLength="26.46" lengthAdjust="spacingAndGlyphs">15</text>
<line x1="1207.50" y1="413.50" x2="1207.50" y2="418.00" stroke="#262626" stroke-width="1"/>
<text x="1194.75" y="448.00" font-size="22.2" fill="#262626" textLength="26.46" lengthAdjust="spacingAndGlyphs">18</text>
<line x1="1264.50" y1="413.50" x2="1264.50" y2="418.00" stroke="#262626" stroke-width="1"/>
<text x="1251.36" y="448.00" font-size="22.2" fill="#262626" textLength="26.46" lengthAdjust="spacingAndGlyphs">21</text>
<line x1="1321.50" y1="413.50" x2="1321.50" y2="418.00" stroke="#262626" stroke-width="1"/>
<text x="1307.97" y="448.00" font-size="22.2" fill="#262626" textLength="26.46" lengthAdjust="spacingAndGlyphs">24</text>
<line x1="868.00" y1="127.50" x2="873.50" y2="127.50" stroke="#0000ff" stroke-width="1"/>
<text x="834.34" y="135.20" font-size="22.2" fill="#0000ff" textLength="26.46" lengthAdjust="spacingAndGlyphs">40</text>
<line x1="868.00" y1="208.50" x2="873.50" y2="208.50" stroke="#0000ff" stroke-width="1"/>
<text x="834.34" y="216.00" font-size="22.2" fill="#0000ff" textLength="26.46" lengthAdjust="spacingAndGlyphs">20</text>
<line x1="868.00" y1="289.50" x2="873.50" y2="289.50" stroke="#0000ff" stroke-width="1"/>
<text x="847.57" y="297.10" font-size="22.2" fill="#0000ff" textLength="13.23" lengthAdjust="spacingAndGlyphs">0</text>
<line x1="868.00" y1="370.50" x2="873.50" y2="370.50" stroke="#0000ff" stroke-width="1"/>
<text x="826.83" y="377.90" font-size="22.2" fill="#0000ff" textLength="33.97" lengthAdjust="spacingAndGlyphs">-20</text>
<line x1="1316.50" y1="127.50" x2="1321.50" y2="127.50" stroke="#262626" stroke-width="1"/>
<text x="1327.70" y="135.20" font-size="22.2" fill="#000000" textLength="13.23" lengthAdjust="spacingAndGlyphs">4</text>
<line x1="1316.50" y1="208.50" x2="1321.50" y2="208.50" stroke="#262626" stroke-width="1"/>
<text x="1327.70" y="216.00" font-size="22.2" fill="#000000" textLength="13.23" lengthAdjust="spacingAndGlyphs">2</text>
<line x1="1316.50" y1="289.50" x2="1321.50" y2="289.50" stroke="#262626" stroke-width="1"/>
<text x="1327.70" y="297.10" font-size="22.2" fill="#000000" textLength="13.23" lengthAdjust="spacingAndGlyphs">0</text>
<line x1="1316.50" y1="370.50" x2="1321.50" y2="370.50" stroke="#262626" stroke-width="1"/>
<text x="1327.70" y="377.90" font-size="22.2" fill="#000000" textLength="20.74" lengthAdjust="spacingAndGlyphs">-2</text>
<text x="1031.81" y="479.00" font-size="24.3" fill="#262626" font-weight="normal" textLength="124.48" lengthAdjust="spacingAndGlyphs">UT Time /h</text>
<text x="1049.70" y="61.70" font-size="26.2" fill="#000000" font-weight="normal" textLength="106.08" lengthAdjust="spacingAndGlyphs">Eyrewell</text>
<text x="868.15" y="100.20" font-size="12.2" fill="#000000" font-weight="normal" textLength="255.08" lengthAdjust="spacingAndGlyphs">File Updated:05-Dec-2025 17:48:10 UTC</text>
<text x="1184.36" y="106.60" font-size="16.5" fill="#000000" font-weight="normal" textLength="130.45" lengthAdjust="spacingAndGlyphs">minute resolution</text>
<line x1="1204.50" y1="143.50" x2="1204.50" y2="418.20" stroke="#00ffff" stroke-width="2.6" />
<rect x="1198.60" y="104.60" width="110.50" height="38.90" fill="#ffffff" stroke="#00ffff" stroke-width="1.4"/>
<text x="1205.54" y="130.80" font-size="21.5" fill="#000000" font-weight="normal" textLength="95.50" lengthAdjust="spacingAndGlyphs">time now</text>
<text transform="translate(814.60,376.21) rotate(-90)" x="0" y="0" font-size="16.8" fill="#0000ff" font-weight="normal" textLength="224.63" lengthAdjust="spacingAndGlyphs">X Mean Magnetic Field / nT</text>
<text transform="translate(1373.00,364.52) rotate(-90)" x="0" y="0" font-size="16.8" fill="#000000" font-weight="normal" textLength="201.82" lengthAdjust="spacingAndGlyphs">Rate of Change / nT/min</text>
<rect x="1464.40" y="108.00" width="112.57" height="310.20" fill="#e6e6e6" stroke="none" stroke-width="0"/>
<rect x="1820.89" y="108.00" width="93.81" height="310.20" fill="#e6e6e6" stroke="none" stroke-width="0"/>
<clipPath id="clip2"><rect x="1464.4" y="108.0" width="450.29999999999995" height="310.2"/></clipPath>
<path d="M1464.4,244 1464.7,265 1465.0,294 1465.3,280 1465.7,249 1466.0,261 1466.3,245 1466.6,230 1466.9,230 1467.2,238 1467.5,276 1467.8,290 1468.2,258 1468.5,271 1468.8,286 1469.1,283 1469.4,303 1469.7,310 1470.0,305 1470.3,276 1470.7,259 1471.0,280 1471.3,296 1471.6,287 1471.9,254 1472.2,254 1472.5,265 1472.8,289 1473.2,303 1473.5,308 1473.8,292 1474.1,281 1474.4,264 1474.7,265 1475.0,275 1475.3,284 1475.7,271 1476.0,271 1476.3,269 1476.6,254 1476.9,255 1477.2,274 1477.5,274 1477.8,297 1478.2,300 1478.5,304 1478.8,299 1479.1,256 1479.4,214 1479.7,229 1480.0,251 1480.3,263 1480.7,281 1481.0,290 1481.3,289 1481.6,265 1481.9,277 1482.2,246 1482.5,259 1482.8,263 1483.2,281 1483.5,286 1483.8,285 1484.1,300 1484.4,282 1484.7,235 1485.0,219 1485.4,200 1485.7,215 1486.0,237 1486.3,352 1486.6,278 1486.9,282 1487.2,254 1487.5,253 1487.9,257 1488.2,281 1488.5,322 1488.8,328 1489.1,315 1489.4,273 1489.7,241 1490.0,268 1490.4,257 1490.7,254 1491.0,268 1491.3,291 1491.6,284 1491.9,274 1492.2,388 1492.5,295 1492.9,294 1493.2,278 1493.5,286 1493.8,299 1494.1,283 1494.4,275 1494.7,267 1495.0,267 1495.4,243 1495.7,249 1496.0,262 1496.3,253 1496.6,257 1496.9,252 1497.2,249 1497.5,194 1497.9,298 1498.2,325 1498.5,294 1498.8,287 1499.1,271 1499.4,284 1499.7,296 1500.0,310 1500.4,314 1500.7,288 1501.0,258 1501.3,254 1501.6,265 1501.9,293 1502.2,336 1502.6,329 1502.9,330 1503.2,311 1503.5,293 1503.8,258 1504.1,250 1504.4,269 1504.7,276 1505.1,267 1505.4,265 1505.7,287 1506.0,306 1506.3,288 1506.6,287 1506.9,276 1507.2,262 1507.6,283 1507.9,297 1508.2,294 1508.5,281 1508.8,217 1509.1,229 1509.4,282 1509.7,258 1510.1,207 1510.4,206 1510.7,256 1511.0,296 1511.3,313 1511.6,286 1511.9,248 1512.2,248 1512.6,236 1512.9,270 1513.2,300 1513.5,298 1513.8,270 1514.1,286 1514.4,285 1514.7,245 1515.1,222 1515.4,198 1515.7,238 1516.0,253 1516.3,268 1516.6,284 1516.9,309 1517.2,274 1517.6,267 1517.9,256 1518.2,255 1518.5,220 1518.8,229 1519.1,259 1519.4,286 1519.7,304 1520.1,281 1520.4,233 1520.7,241 1521.0,233 1521.3,299 1521.6,311 1521.9,257 1522.3,253 1522.6,258 1522.9,253 1523.2,249 1523.5,253 1523.8,235 1524.1,265 1524.4,307 1524.8,311 1525.1,279 1525.4,265 1525.7,283 1526.0,296 1526.3,285 1526.6,281 1526.9,250 1527.3,263 1527.6,303 1527.9,324 1528.2,327 1528.5,312 1528.8,258 1529.1,267 1529.4,299 1529.8,281 1530.1,262 1530.4,275 1530.7,290 1531.0,267 1531.3,237 1531.6,215 1531.9,240 1532.3,286 1532.6,319 1532.9,306 1533.2,289 1533.5,262 1533.8,277 1534.1,180 1534.4,275 1534.8,296 1535.1,294 1535.4,276 1535.7,245 1536.0,243 1536.3,289 1536.6,208 1536.9,297 1537.3,270 1537.6,241 1537.9,265 1538.2,261 1538.5,259 1538.8,257 1539.1,292 1539.5,311 1539.8,291 1540.1,264 1540.4,264 1540.7,254 1541.0,364 1541.3,306 1541.6,322 1542.0,283 1542.3,289 1542.6,285 1542.9,310 1543.2,315 1543.5,294 1543.8,235 1544.1,264 1544.5,267 1544.8,281 1545.1,305 1545.4,332 1545.7,295 1546.0,303 1546.3,279 1546.6,259 1547.0,299 1547.3,303 1547.6,289 1547.9,245 1548.2,238 1548.5,201 1548.8,223 1549.1,272 1549.5,298 1549.8,276 1550.1,301 1550.4,295 1550.7,268 1551.0,255 1551.3,235 1551.6,225 1552.0,212 1552.3,218 1552.6,204 1552.9,237 1553.2,260 1553.5,270 1553.8,281 1554.1,270 1554.5,305 1554.8,278 1555.1,267 1555.4,276 1555.7,272 1556.0,248 1556.3,223 1556.6,260 1557.0,278 1557.3,293 1557.6,249 1557.9,226 1558.2,246 1558.5,267 1558.8,278 1559.2,262 1559.5,279 1559.8,280 1560.1,290 1560.4,297 1560.7,275 1561.0,261 1561.3,262 1561.7,249 1562.0,253 1562.3,250 1562.6,230 1562.9,242 1563.2,267 1563.5,297 1563.8,309 1564.2,280 1564.5,245 1564.8,264 1565.1,262 1565.4,230 1565.7,200 1566.0,302 1566.3,276 1566.7,280 1567.0,304 1567.3,285 1567.6,262 1567.9,238 1568.2,277 1568.5,319 1568.8,301 1569.2,286 1569.5,242 1569.8,225 1570.1,245 1570.4,259 1570.7,282 1571.0,245 1571.3,283 1571.7,290 1572.0,250 1572.3,224 1572.6,205 1572.9,210 1573.2,261 1573.5,289 1573.8,316 1574.2,327 1574.5,341 1574.8,298 1575.1,245 1575.4,237 1575.7,275 1576.0,316 1576.3,312 1576.7,299 1577.0,311 1577.3,321 1577.6,274 1577.9,266 1578.2,282 1578.5,293 1578.9,287 1579.2,246 1579.5,246 1579.8,277 1580.1,304 1580.4,266 1580.7,269 1581.0,284 1581.4,304 1581.7,282 1582.0,269 1582.3,250 1582.6,248 1582.9,259 1583.2,277 1583.5,262 1583.9,276 1584.2,318 1584.5,230 1584.8,297 1585.1,274 1585.4,254 1585.7,248 1586.0,249 1586.4,288 1586.7,303 1587.0,275 1587.3,244 1587.6,235 1587.9,223 1588.2,249 1588.5,289 1588.9,271 1589.2,244 1589.5,233 1589.8,231 1590.1,264 1590.4,255 1590.7,258 1591.0,277 1591.4,317 1591.7,315 1592.0,297 1592.3,297 1592.6,260 1592.9,178 1593.2,329 1593.5,276 1593.9,284 1594.2,168 1594.5,297 1594.8,299 1595.1,285 1595.4,247 1595.7,218 1596.1,207 1596.4,246 1596.7,278 1597.0,283 1597.3,257 1597.6,301 1597.9,191 1598.2,282 1598.6,274 1598.9,271 1599.2,286 1599.5,318 1599.8,338 1600.1,321 1600.4,289 1600.7,262 1601.1,233 1601.4,221 1601.7,274 1602.0,293 1602.3,275 1602.6,256 1602.9,218 1603.2,237 1603.6,252 1603.9,271 1604.2,270 1604.5,233 1604.8,266 1605.1,283 1605.4,270 1605.7,249 1606.1,245 1606.4,251 1606.7,247 1607.0,242 1607.3,259 1607.6,293 1607.9,280 1608.2,270 1608.6,281 1608.9,249 1609.2,282 1609.5,250 1609.8,167 1610.1,250 1610.4,287 1610.7,297 1611.1,273 1611.4,248 1611.7,255 1612.0,259 1612.3,352 1612.6,269 1612.9,270 1613.2,273 1613.6,257 1613.9,256 1614.2,274 1614.5,281 1614.8,287 1615.1,294 1615.4,285 1615.8,292 1616.1,295 1616.4,296 1616.7,282 1617.0,272 1617.3,285 1617.6,277 1617.9,284 1618.3,238 1618.6,211 1618.9,219 1619.2,258 1619.5,279 1619.8,269 1620.1,275 1620.4,267 1620.8,255 1621.1,246 1621.4,242 1621.7,246 1622.0,264 1622.3,282 1622.6,244 1622.9,270 1623.3,269 1623.6,269 1623.9,250 1624.2,258 1624.5,261 1624.8,277 1625.1,274 1625.4,284 1625.8,267 1626.1,263 1626.4,275 1626.7,275 1627.0,247 1627.3,221 1627.6,232 1627.9,179 1628.3,258 1628.6,269 1628.9,268 1629.2,262 1629.5,260 1629.8,269 1630.1,233 1630.4,256 1630.8,260 1631.1,259 1631.4,281 1631.7,278 1632.0,259 1632.3,244 1632.6,250 1632.9,263 1633.3,262 1633.6,256 1633.9,249 1634.2,271 1634.5,282 1634.8,277 1635.1,271 1635.5,269 1635.8,266 1636.1,270 1636.4,282 1636.7,282 1637.0,276 1637.3,264 1637.6,269 1638.0,271 1638.3,276 1638.6,269 1638.9,275 1639.2,268 1639.5,272 1639.8,264 1640.1,260 1640.5,284 1640.8,294 1641.1,289 1641.4,285 1641.7,286 1642.0,280 1642.3,265 1642.6,244 1643.0,238 1643.3,268 1643.6,285 1643.9,288 1644.2,283 1644.5,265 1644.8,260 1645.1,252 1645.5,266 1645.8,289 1646.1,293 1646.4,298 1646.7,306 1647.0,286 1647.3,270 1647.6,253 1648.0,252 1648.3,276 1648.6,224 1648.9,273 1649.2,271 1649.5,271 1649.8,253 1650.1,261 1650.5,268 1650.8,261 1651.1,258 1651.4,252 1651.7,248 1652.0,259 1652.3,257 1652.7,253 1653.0,254 1653.3,267 1653.6,282 1653.9,293 1654.2,296 1654.5,280 1654.8,328 1655.2,246 1655.5,263 1655.8,282 1656.1,296 1656.4,280 1656.7,267 1657.0,258 1657.3,283 1657.7,279 1658.0,269 1658.3,268 1658.6,270 1658.9,264 1659.2,267 1659.5,264 1659.8,253 1660.2,265 1660.5,278 1660.8,276 1661.1,285 1661.4,266 1661.7,251 1662.0,265 1662.3,277 1662.7,280 1663.0,271 1663.3,277 1663.6,280 1663.9,277 1664.2,276 1664.5,282 1664.8,267 1665.2,253 1665.5,238 1665.8,246 1666.1,253 1666.4,267 1666.7,254 1667.0,275 1667.3,277 1667.7,281 1668.0,254 1668.3,332 1668.6,337 1668.9,258 1669.2,268 1669.5,278 1669.8,279 1670.2,271 1670.5,269 1670.8,279 1671.1,288 1671.4,285 1671.7,281 1672.0,264 1672.4,253 1672.7,255 1673.0,264 1673.3,319 1673.6,292 1673.9,221 1674.2,283 1674.5,260 1674.9,274 1675.2,330 1675.5,260 1675.8,256 1676.1,257 1676.4,263 1676.7,256 1677.0,263 1677.4,269 1677.7,276 1678.0,281 1678.3,271 1678.6,270 1678.9,268 1679.2,285 1679.5,307 1679.9,291 1680.2,279 1680.5,271 1680.8,252 1681.1,258 1681.4,269 1681.7,257 1682.0,267 1682.4,283 1682.7,298 1683.0,297 1683.3,288 1683.6,268 1683.9,257 1684.2,261 1684.5,275 1684.9,274 1685.2,270 1685.5,278 1685.8,294 1686.1,315 1686.4,314 1686.7,288 1687.0,258 1687.4,256 1687.7,265 1688.0,272 1688.3,308 1688.6,291 1688.9,284 1689.2,284 1689.6,286 1689.9,286 1690.2,291 1690.5,278 1690.8,253 1691.1,239 1691.4,255 1691.7,284 1692.1,301 1692.4,292 1692.7,259 1693.0,281 1693.3,276 1693.6,232 1693.9,264 1694.2,280 1694.6,255 1694.9,245 1695.2,245 1695.5,255 1695.8,261 1696.1,278 1696.4,286 1696.7,267 1697.1,251 1697.4,257 1697.7,262 1698.0,312 1698.3,261 1698.6,265 1698.9,284 1699.2,289 1699.6,289 1699.9,285 1700.2,260 1700.5,243 1700.8,233 1701.1,229 1701.4,265 1701.7,288 1702.1,290 1702.4,267 1702.7,261 1703.0,262 1703.3,288 1703.6,304 1703.9,299 1704.2,280 1704.6,247 1704.9,248 1705.2,258 1705.5,268 1705.8,279 1706.1,298 1706.4,298 1706.7,291 1707.1,281 1707.4,265 1707.7,256 1708.0,256 1708.3,269 1708.6,288 1708.9,290 1709.3,273 1709.6,264 1709.9,278 1710.2,281 1710.5,276 1710.8,266 1711.1,253 1711.4,269 1711.8,240 1712.1,275 1712.4,270 1712.7,265 1713.0,266 1713.3,275 1713.6,287 1713.9,301 1714.3,273 1714.6,200 1714.9,254 1715.2,244 1715.5,257 1715.8,309 1716.1,278 1716.4,278 1716.8,252 1717.1,259 1717.4,260 1717.7,268 1718.0,268 1718.3,271 1718.6,292 1718.9,285 1719.3,274 1719.6,258 1719.9,245 1720.2,255 1720.5,265 1720.8,269 1721.1,283 1721.4,299 1721.8,270 1722.1,263 1722.4,269 1722.7,254 1723.0,267 1723.3,271 1723.6,266 1723.9,261 1724.3,297 1724.6,272 1724.9,270 1725.2,254 1725.5,248 1725.8,253 1726.1,265 1726.4,273 1726.8,277 1727.1,251 1727.4,261 1727.7,273 1728.0,283 1728.3,261 1728.6,281 1729.0,289 1729.3,273 1729.6,267 1729.9,262 1730.2,284 1730.5,275 1730.8,270 1731.1,271 1731.5,281 1731.8,271 1732.1,279 1732.4,278 1732.7,275 1733.0,279 1733.3,273 1733.6,262 1734.0,277 1734.3,280 1734.6,260 1734.9,247 1735.2,255 1735.5,259 1735.8,259 1736.1,259 1736.5,270 1736.8,277 1737.1,278 1737.4,277 1737.7,282 1738.0,270 1738.3,265 1738.6,270 1739.0,269 1739.3,260 1739.6,270 1739.9,266 1740.2,287 1740.5,304 1740.8,303 1741.1,280 1741.5,269 1741.8,251 1742.1,259 1742.4,273 1742.7,274 1743.0,284 1743.3,271 1743.6,264 1744.0,273 1744.3,279 1744.6,284 1744.9,287 1745.2,285 1745.5,277 1745.8,280 1746.2,278 1746.5,271 1746.8,270 1747.1,281 1747.4,269 1747.7,270 1748.0,259 1748.3,248 1748.7,253 1749.0,266 1749.3,277 1749.6,299 1749.9,291 1750.2,275 1750.5,277 1750.8,288 1751.2,297 1751.5,310 1751.8,282 1752.1,284 1752.4,293 1752.7,299 1753.0,298 1753.3,290 1753.7,275 1754.0,252 1754.3,240 1754.6,255 1754.9,253 1755.2,256 1755.5,255 1755.8,247 1756.2,251 1756.5,263 1756.8,259 1757.1,268 1757.4,269 1757.7,265 1758.0,275 1758.3,277 1758.7,290 1759.0,310 1759.3,302 1759.6,291 1759.9,287 1760.2,277 1760.5,262 1760.8,345 1761.2,296 1761.5,299 1761.8,280 1762.1,268 1762.4,274 1762.7,272 1763.0,268 1763.3,256 1763.7,248 1764.0,258 1764.3,278 1764.6,279 1764.9,281 1765.2,272 1765.5,270 1765.9,260 1766.2,277 1766.5,278 1766.8,266 1767.1,268 1767.4,278 1767.7,277 1768.0,263 1768.4,261 1768.7,251 1769.0,241 1769.3,251 1769.6,258 1769.9,267 1770.2,290 1770.5,345 1770.9,280 1771.2,272 1771.5,259 1771.8,261 1772.1,285 1772.4,272 1772.7,265 1773.0,262 1773.4,263 1773.7,261 1774.0,249 1774.3,247 1774.6,283 1774.9,305 1775.2,304 1775.5,278 1775.9,253 1776.2,248 1776.5,271 1776.8,260 1777.1,243 1777.4,253 1777.7,271 1778.0,283 1778.4,289 1778.7,280 1779.0,270 1779.3,249 1779.6,268 1779.9,287 1780.2,277 1780.5,332 1780.9,260 1781.2,253 1781.5,268 1781.8,267 1782.1,270 1782.4,262 1782.7,254 1783.0,264 1783.4,280 1783.7,302 1784.0,278 1784.3,250 1784.6,236 1784.9,233 1785.2,240 1785.6,254 1785.9,272 1786.2,277 1786.5,275 1786.8,271 1787.1,290 1787.4,310 1787.7,319 1788.1,302 1788.4,295 1788.7,279 1789.0,273 1789.3,268 1789.6,265 1789.9,252 1790.2,252 1790.6,261 1790.9,288 1791.2,300 1791.5,299 1791.8,299 1792.1,294 1792.4,292 1792.7,307 1793.1,306 1793.4,324 1793.7,261 1794.0,260 1794.3,264 1794.6,256 1794.9,261 1795.2,279 1795.6,297 1795.9,291 1796.2,297 1796.5,311 1796.8,294 1797.1,284 1797.4,280 1797.7,273 1798.1,266 1798.4,284 1798.7,288 1799.0,280" fill="none" stroke="#a0a0a0" stroke-width="0.5" clip-path="url(#clip2)"/>
<path d="M1464.4,268 1464.7,269 1465.0,280 1465.3,267 1465.7,263 1466.0,287 1466.3,285 1466.6,254 1466.9,241 1467.2,271 1467.5,289 1467.8,290 1468.2,269 1468.5,276 1468.8,283 1469.1,271 1469.4,259 1469.7,292 1470.0,288 1470.3,262 1470.7,269 1471.0,270 1471.3,245 1471.6,264 1471.9,296 1472.2,277 1472.5,275 1472.8,260 1473.2,305 1473.5,273 1473.8,275 1474.1,285 1474.4,312 1474.7,302 1475.0,284 1475.3,273 1475.7,257 1476.0,272 1476.3,294 1476.6,278 1476.9,278 1477.2,286 1477.5,266 1477.8,278 1478.2,261 1478.5,260 1478.8,368 1479.1,290 1479.4,262 1479.7,278 1480.0,264 1480.3,267 1480.7,267 1481.0,280 1481.3,300 1481.6,292 1481.9,249 1482.2,231 1482.5,242 1482.8,278 1483.2,302 1483.5,289 1483.8,282 1484.1,290 1484.4,285 1484.7,281 1485.0,283 1485.4,269 1485.7,262 1486.0,260 1486.3,286 1486.6,282 1486.9,278 1487.2,280 1487.5,289 1487.9,289 1488.2,265 1488.5,272 1488.8,255 1489.1,278 1489.4,283 1489.7,284 1490.0,279 1490.4,267 1490.7,273 1491.0,280 1491.3,256 1491.6,249 1491.9,267 1492.2,280 1492.5,267 1492.9,285 1493.2,279 1493.5,273 1493.8,250 1494.1,257 1494.4,280 1494.7,301 1495.0,298 1495.4,256 1495.7,259 1496.0,266 1496.3,281 1496.6,283 1496.9,285 1497.2,284 1497.5,281 1497.9,290 1498.2,276 1498.5,231 1498.8,249 1499.1,306 1499.4,315 1499.7,283 1500.0,258 1500.4,249 1500.7,257 1501.0,268 1501.3,289 1501.6,299 1501.9,286 1502.2,248 1502.6,247 1502.9,274 1503.2,276 1503.5,253 1503.8,266 1504.1,259 1504.4,256 1504.7,277 1505.1,270 1505.4,267 1505.7,282 1506.0,291 1506.3,270 1506.6,264 1506.9,255 1507.2,278 1507.6,274 1507.9,267 1508.2,275 1508.5,288 1508.8,274 1509.1,271 1509.4,288 1509.7,276 1510.1,267 1510.4,254 1510.7,250 1511.0,267 1511.3,280 1511.6,285 1511.9,290 1512.2,276 1512.6,295 1512.9,270 1513.2,265 1513.5,246 1513.8,265 1514.1,239 1514.4,258 1514.7,175 1515.1,255 1515.4,272 1515.7,297 1516.0,311 1516.3,285 1516.6,261 1516.9,290 1517.2,397 1517.6,251 1517.9,240 1518.2,242 1518.5,278 1518.8,286 1519.1,282 1519.4,264 1519.7,236 1520.1,258 1520.4,388 1520.7,313 1521.0,285 1521.3,274 1521.6,255 1521.9,256 1522.3,225 1522.6,245 1522.9,266 1523.2,275 1523.5,289 1523.8,301 1524.1,285 1524.4,275 1524.8,253 1525.1,269 1525.4,260 1525.7,287 1526.0,277 1526.3,276 1526.6,267 1526.9,294 1527.3,311 1527.6,265 1527.9,242 1528.2,261 1528.5,304 1528.8,318 1529.1,332 1529.4,269 1529.8,227 1530.1,229 1530.4,269 1530.7,273 1531.0,264 1531.3,252 1531.6,229 1531.9,231 1532.3,275 1532.6,248 1532.9,306 1533.2,275 1533.5,246 1533.8,220 1534.1,264 1534.4,301 1534.8,298 1535.1,251 1535.4,252 1535.7,294 1536.0,290 1536.3,285 1536.6,295 1536.9,289 1537.3,272 1537.6,274 1537.9,266 1538.2,218 1538.5,218 1538.8,249 1539.1,301 1539.5,290 1539.8,274 1540.1,272 1540.4,257 1540.7,272 1541.0,282 1541.3,270 1541.6,380 1542.0,300 1542.3,290 1542.6,312 1542.9,260 1543.2,240 1543.5,280 1543.8,280 1544.1,296 1544.5,314 1544.8,299 1545.1,280 1545.4,253 1545.7,263 1546.0,276 1546.3,293 1546.6,265 1547.0,269 1547.3,253 1547.6,256 1547.9,299 1548.2,286 1548.5,291 1548.8,309 1549.1,269 1549.5,251 1549.8,239 1550.1,256 1550.4,270 1550.7,302 1551.0,286 1551.3,261 1551.6,267 1552.0,278 1552.3,295 1552.6,307 1552.9,288 1553.2,302 1553.5,245 1553.8,272 1554.1,279 1554.5,286 1554.8,274 1555.1,275 1555.4,277 1555.7,259 1556.0,253 1556.3,186 1556.6,276 1557.0,294 1557.3,299 1557.6,271 1557.9,240 1558.2,232 1558.5,258 1558.8,298 1559.2,304 1559.5,264 1559.8,264 1560.1,262 1560.4,264 1560.7,259 1561.0,270 1561.3,289 1561.7,300 1562.0,250 1562.3,226 1562.6,261 1562.9,280 1563.2,285 1563.5,260 1563.8,253 1564.2,243 1564.5,250 1564.8,245 1565.1,249 1565.4,259 1565.7,268 1566.0,285 1566.3,276 1566.7,279 1567.0,271 1567.3,268 1567.6,263 1567.9,260 1568.2,263 1568.5,276 1568.8,267 1569.2,278 1569.5,297 1569.8,309 1570.1,287 1570.4,237 1570.7,246 1571.0,248 1571.3,268 1571.7,361 1572.0,244 1572.3,250 1572.6,254 1572.9,291 1573.2,223 1573.5,297 1573.8,256 1574.2,273 1574.5,298 1574.8,277 1575.1,269 1575.4,237 1575.7,255 1576.0,286 1576.3,311 1576.7,341 1577.0,258 1577.3,263 1577.6,254 1577.9,251 1578.2,262 1578.5,273 1578.9,295 1579.2,273 1579.5,234 1579.8,240 1580.1,280 1580.4,292 1580.7,286 1581.0,286 1581.4,280 1581.7,279 1582.0,270 1582.3,275 1582.6,266 1582.9,252 1583.2,286 1583.5,287 1583.9,274 1584.2,260 1584.5,268 1584.8,293 1585.1,309 1585.4,325 1585.7,273 1586.0,158 1586.4,255 1586.7,265 1587.0,300 1587.3,297 1587.6,274 1587.9,244 1588.2,186 1588.5,271 1588.9,289 1589.2,260 1589.5,247 1589.8,190 1590.1,298 1590.4,255 1590.7,269 1591.0,270 1591.4,278 1591.7,299 1592.0,282 1592.3,269 1592.6,286 1592.9,286 1593.2,288 1593.5,289 1593.9,310 1594.2,282 1594.5,264 1594.8,265 1595.1,287 1595.4,295 1595.7,275 1596.1,283 1596.4,266 1596.7,257 1597.0,270 1597.3,259 1597.6,259 1597.9,283 1598.2,304 1598.6,275 1598.9,156 1599.2,262 1599.5,273 1599.8,255 1600.1,275 1600.4,260 1600.7,250 1601.1,275 1601.4,291 1601.7,299 1602.0,309 1602.3,286 1602.6,268 1602.9,263 1603.2,255 1603.6,240 1603.9,296 1604.2,262 1604.5,285 1604.8,273 1605.1,263 1605.4,282 1605.7,283 1606.1,285 1606.4,285 1606.7,279 1607.0,264 1607.3,259 1607.6,268 1607.9,258 1608.2,271 1608.6,280 1608.9,303 1609.2,266 1609.5,236 1609.8,247 1610.1,286 1610.4,273 1610.7,265 1611.1,296 1611.4,300 1611.7,270 1612.0,258 1612.3,260 1612.6,283 1612.9,273 1613.2,258 1613.6,266 1613.9,344 1614.2,272 1614.5,228 1614.8,222 1615.1,257 1615.4,292 1615.8,300 1616.1,281 1616.4,262 1616.7,271 1617.0,290 1617.3,282 1617.6,254 1617.9,259 1618.3,275 1618.6,257 1618.9,263 1619.2,268 1619.5,265 1619.8,261 1620.1,299 1620.4,294 1620.8,263 1621.1,275 1621.4,283 1621.7,281 1622.0,258 1622.3,249 1622.6,262 1622.9,276 1623.3,261 1623.6,264 1623.9,275 1624.2,294 1624.5,279 1624.8,259 1625.1,241 1625.4,278 1625.8,289 1626.1,262 1626.4,256 1626.7,278 1627.0,264 1627.3,261 1627.6,273 1627.9,285 1628.3,276 1628.6,279 1628.9,277 1629.2,270 1629.5,269 1629.8,282 1630.1,272 1630.4,253 1630.8,259 1631.1,265 1631.4,283 1631.7,278 1632.0,273 1632.3,282 1632.6,278 1632.9,278 1633.3,276 1633.6,262 1633.9,265 1634.2,265 1634.5,269 1634.8,270 1635.1,271 1635.5,288 1635.8,280 1636.1,283 1636.4,279 1636.7,277 1637.0,281 1637.3,259 1637.6,271 1638.0,274 1638.3,277 1638.6,267 1638.9,268 1639.2,272 1639.5,265 1639.8,265 1640.1,253 1640.5,252 1640.8,249 1641.1,261 1641.4,284 1641.7,279 1642.0,278 1642.3,254 1642.6,256 1643.0,265 1643.3,281 1643.6,273 1643.9,279 1644.2,279 1644.5,276 1644.8,263 1645.1,257 1645.5,271 1645.8,272 1646.1,270 1646.4,264 1646.7,283 1647.0,285 1647.3,281 1647.6,279 1648.0,259 1648.3,260 1648.6,266 1648.9,263 1649.2,279 1649.5,276 1649.8,275 1650.1,274 1650.5,273 1650.8,269 1651.1,273 1651.4,274 1651.7,275 1652.0,282 1652.3,289 1652.7,303 1653.0,294 1653.3,287 1653.6,270 1653.9,257 1654.2,261 1654.5,283 1654.8,272 1655.2,261 1655.5,264 1655.8,268 1656.1,273 1656.4,271 1656.7,279 1657.0,259 1657.3,264 1657.7,258 1658.0,259 1658.3,284 1658.6,289 1658.9,270 1659.2,261 1659.5,265 1659.8,279 1660.2,278 1660.5,265 1660.8,262 1661.1,281 1661.4,291 1661.7,284 1662.0,258 1662.3,252 1662.7,256 1663.0,259 1663.3,271 1663.6,285 1663.9,299 1664.2,277 1664.5,263 1664.8,276 1665.2,283 1665.5,280 1665.8,280 1666.1,272 1666.4,259 1666.7,261 1667.0,266 1667.3,269 1667.7,274 1668.0,266 1668.3,274 1668.6,274 1668.9,271 1669.2,226 1669.5,263 1669.8,273 1670.2,284 1670.5,285 1670.8,285 1671.1,292 1671.4,264 1671.7,268 1672.0,252 1672.4,264 1672.7,294 1673.0,291 1673.3,275 1673.6,271 1673.9,281 1674.2,261 1674.5,258 1674.9,263 1675.2,281 1675.5,279 1675.8,261 1676.1,280 1676.4,283 1676.7,277 1677.0,261 1677.4,242 1677.7,246 1678.0,275 1678.3,284 1678.6,278 1678.9,279 1679.2,279 1679.5,276 1679.9,272 1680.2,270 1680.5,269 1680.8,224 1681.1,282 1681.4,275 1681.7,259 1682.0,263 1682.4,282 1682.7,286 1683.0,276 1683.3,266 1683.6,265 1683.9,259 1684.2,283 1684.5,289 1684.9,267 1685.2,266 1685.5,276 1685.8,281 1686.1,281 1686.4,265 1686.7,261 1687.0,264 1687.4,278 1687.7,324 1688.0,281 1688.3,284 1688.6,293 1688.9,290 1689.2,288 1689.6,272 1689.9,267 1690.2,254 1690.5,261 1690.8,278 1691.1,280 1691.4,276 1691.7,253 1692.1,260 1692.4,257 1692.7,207 1693.0,270 1693.3,278 1693.6,290 1693.9,267 1694.2,256 1694.6,263 1694.9,273 1695.2,271 1695.5,280 1695.8,274 1696.1,276 1696.4,285 1696.7,283 1697.1,265 1697.4,274 1697.7,258 1698.0,268 1698.3,283 1698.6,280 1698.9,269 1699.2,267 1699.6,261 1699.9,265 1700.2,269 1700.5,279 1700.8,282 1701.1,288 1701.4,280 1701.7,266 1702.1,269 1702.4,264 1702.7,264 1703.0,273 1703.3,277 1703.6,285 1703.9,280 1704.2,269 1704.6,260 1704.9,270 1705.2,279 1705.5,270 1705.8,259 1706.1,274 1706.4,285 1706.7,271 1707.1,250 1707.4,248 1707.7,263 1708.0,271 1708.3,295 1708.6,291 1708.9,263 1709.3,265 1709.6,277 1709.9,272 1710.2,250 1710.5,259 1710.8,257 1711.1,267 1711.4,274 1711.8,279 1712.1,312 1712.4,252 1712.7,261 1713.0,266 1713.3,277 1713.6,278 1713.9,270 1714.3,264 1714.6,267 1714.9,289 1715.2,260 1715.5,256 1715.8,264 1716.1,271 1716.4,280 1716.8,280 1717.1,278 1717.4,279 1717.7,278 1718.0,262 1718.3,260 1718.6,266 1718.9,261 1719.3,272 1719.6,274 1719.9,260 1720.2,264 1720.5,271 1720.8,276 1721.1,285 1721.4,286 1721.8,266 1722.1,257 1722.4,259 1722.7,268 1723.0,278 1723.3,274 1723.6,269 1723.9,280 1724.3,290 1724.6,282 1724.9,265 1725.2,269 1725.5,278 1725.8,280 1726.1,274 1726.4,268 1726.8,262 1727.1,264 1727.4,264 1727.7,311 1728.0,268 1728.3,277 1728.6,272 1729.0,256 1729.3,275 1729.6,269 1729.9,267 1730.2,260 1730.5,267 1730.8,266 1731.1,269 1731.5,281 1731.8,282 1732.1,281 1732.4,303 1732.7,264 1733.0,266 1733.3,278 1733.6,272 1734.0,268 1734.3,286 1734.6,289 1734.9,280 1735.2,264 1735.5,269 1735.8,264 1736.1,281 1736.5,279 1736.8,272 1737.1,274 1737.4,266 1737.7,272 1738.0,287 1738.3,285 1738.6,286 1739.0,277 1739.3,266 1739.6,260 1739.9,265 1740.2,267 1740.5,266 1740.8,261 1741.1,264 1741.5,276 1741.8,275 1742.1,266 1742.4,266 1742.7,269 1743.0,271 1743.3,260 1743.6,256 1744.0,270 1744.3,274 1744.6,269 1744.9,259 1745.2,270 1745.5,285 1745.8,294 1746.2,282 1746.5,276 1746.8,281 1747.1,283 1747.4,271 1747.7,267 1748.0,256 1748.3,261 1748.7,280 1749.0,285 1749.3,273 1749.6,262 1749.9,253 1750.2,267 1750.5,317 1750.8,289 1751.2,289 1751.5,263 1751.8,256 1752.1,265 1752.4,282 1752.7,286 1753.0,269 1753.3,253 1753.7,251 1754.0,257 1754.3,260 1754.6,270 1754.9,284 1755.2,272 1755.5,266 1755.8,257 1756.2,270 1756.5,281 1756.8,274 1757.1,259 1757.4,265 1757.7,282 1758.0,285 1758.3,277 1758.7,258 1759.0,252 1759.3,245 1759.6,264 1759.9,278 1760.2,282 1760.5,280 1760.8,275 1761.2,270 1761.5,304 1761.8,279 1762.1,273 1762.4,267 1762.7,274 1763.0,281 1763.3,273 1763.7,255 1764.0,250 1764.3,265 1764.6,237 1764.9,287 1765.2,284 1765.5,256 1765.9,250 1766.2,266 1766.5,283 1766.8,282 1767.1,258 1767.4,250 1767.7,266 1768.0,266 1768.4,275 1768.7,269 1769.0,269 1769.3,271 1769.6,258 1769.9,267 1770.2,267 1770.5,272 1770.9,268 1771.2,269 1771.5,270 1771.8,259 1772.1,260 1772.4,280 1772.7,276 1773.0,274 1773.4,252 1773.7,250 1774.0,262 1774.3,267 1774.6,268 1774.9,275 1775.2,285 1775.5,270 1775.9,270 1776.2,280 1776.5,279 1776.8,286 1777.1,273 1777.4,266 1777.7,269 1778.0,265 1778.4,265 1778.7,268 1779.0,265 1779.3,249 1779.6,233 1779.9,282 1780.2,291 1780.5,282 1780.9,270 1781.2,259 1781.5,254 1781.8,277 1782.1,271 1782.4,263 1782.7,251 1783.0,266 1783.4,266 1783.7,278 1784.0,262 1784.3,264 1784.6,276 1784.9,276 1785.2,274 1785.6,266 1785.9,267 1786.2,271 1786.5,278 1786.8,273 1787.1,280 1787.4,265 1787.7,261 1788.1,267 1788.4,254 1788.7,257 1789.0,274 1789.3,283 1789.6,269 1789.9,269 1790.2,287 1790.6,289 1790.9,282 1791.2,275 1791.5,274 1791.8,273 1792.1,273 1792.4,263 1792.7,265 1793.1,276 1793.4,275 1793.7,287 1794.0,295 1794.3,277 1794.6,264 1794.9,264 1795.2,268 1795.6,264 1795.9,271 1796.2,275 1796.5,296 1796.8,289 1797.1,269 1797.4,256 1797.7,259 1798.1,277 1798.4,276 1798.7,272 1799.0,246" fill="none" stroke="#5c5c5c" stroke-width="0.42" clip-path="url(#clip2)"/>
<line x1="1464.40" y1="148.70" x2="1914.70" y2="148.70" stroke="#00ff00" stroke-width="3" />
<line x1="1464.40" y1="393.60" x2="1914.70" y2="393.60" stroke="#00ff00" stroke-width="3" />
<path d="M1465.0,292.0 1466.3,302.2 1467.7,312.0 1468.8,308.8 1470.0,308.5 1471.1,308.3 1472.2,306.5 1473.3,306.8 1474.5,307.1 1475.6,309.7 1476.7,313.8 1478.1,329.8 1479.4,343.6 1480.5,338.5 1481.6,330.6 1482.7,324.0 1483.8,318.2 1484.9,310.1 1486.1,308.7 1487.3,309.7 1488.5,311.9 1489.7,315.7 1490.9,324.3 1492.1,331.0 1493.2,328.2 1494.3,326.6 1495.5,321.5 1496.6,321.0 1497.9,328.3 1499.3,334.6 1500.5,329.5 1501.6,324.3 1502.8,319.7 1503.9,314.7 1505.0,316.4 1506.0,313.7 1507.1,317.4 1508.1,317.6 1509.2,318.8 1510.2,319.2 1511.3,330.4 1512.5,335.7 1513.6,346.4 1514.7,355.4 1515.8,349.4 1517.0,344.0 1518.2,339.3 1519.3,332.8 1520.5,335.5 1521.7,336.7 1522.9,339.1 1524.1,357.5 1525.3,375.4 1526.5,392.5 1527.6,384.8 1528.8,375.8 1529.9,369.8 1531.0,360.8 1532.2,358.3 1533.4,355.5 1534.6,353.6 1535.7,340.2 1536.8,327.6 1537.9,318.1 1539.0,303.8 1540.1,290.2 1541.4,281.1 1542.8,272.1 1544.0,282.1 1545.2,293.0 1546.4,302.9 1547.5,304.7 1548.7,306.8 1549.8,305.3 1550.9,308.3 1552.1,292.7 1553.2,277.1 1554.3,262.8 1555.5,246.8 1556.7,248.7 1557.9,252.4 1559.1,255.8 1560.2,249.8 1561.3,250.5 1562.5,243.4 1563.6,239.5 1564.6,246.9 1565.7,257.8 1566.7,261.1 1567.7,266.7 1568.7,279.3 1569.8,286.8 1570.8,292.0 1571.8,280.3 1572.9,266.4 1573.9,253.9 1575.0,236.8 1576.0,221.8 1577.1,210.7 1578.1,197.9 1579.1,193.4 1580.2,185.9 1581.2,178.7 1582.3,173.2 1583.4,167.8 1584.4,159.9 1585.5,168.5 1586.6,176.9 1587.6,186.1 1588.7,193.3 1589.8,201.5 1591.0,203.7 1592.3,206.4 1593.5,210.6 1594.7,198.9 1595.9,187.5 1597.1,176.2 1598.4,183.0 1599.8,187.1 1600.9,200.8 1602.0,212.5 1603.0,225.3 1604.1,239.5 1605.2,250.4 1606.4,240.2 1607.6,230.1 1608.8,217.8 1610.0,212.9 1611.1,209.6 1612.2,204.3 1613.4,199.7 1614.4,208.3 1615.5,216.7 1616.5,228.8 1617.5,239.4 1618.5,249.1 1619.6,257.5 1620.6,266.7 1621.6,265.2 1622.7,262.1 1623.7,262.2 1624.8,259.5 1625.8,258.2 1626.9,256.1 1627.9,255.8 1629.0,259.8 1630.1,264.2 1631.1,267.1 1632.2,273.8 1633.3,277.6 1634.4,278.7 1635.5,281.0 1636.7,281.6 1637.8,281.2 1638.9,285.9 1640.0,291.9 1641.1,294.0 1642.2,296.6 1643.3,303.6 1644.4,307.7 1645.5,312.7 1646.5,306.6 1647.5,301.6 1648.6,300.8 1649.6,292.9 1650.6,289.7 1651.8,292.5 1652.9,296.0 1654.1,300.4 1655.3,303.3 1656.4,302.1 1657.5,301.2 1658.6,295.5 1659.7,295.3 1660.8,294.0 1661.8,294.8 1662.8,298.3 1663.8,299.9 1664.9,293.9 1666.1,289.4 1667.2,284.6 1668.3,287.8 1669.4,286.9 1670.5,288.2 1671.6,291.5 1672.7,291.4 1674.4,276.1 1675.4,280.2 1676.4,278.2 1677.5,282.4 1678.5,283.1 1679.5,288.0 1680.6,284.0 1681.7,278.0 1682.9,273.5 1684.0,271.0 1685.1,265.9 1686.1,271.4 1687.2,274.2 1688.2,275.4 1689.2,280.7 1690.3,283.4 1691.3,292.2 1692.3,292.9 1693.4,295.2 1694.4,300.8 1695.4,298.3 1696.4,298.0 1697.5,291.4 1698.5,287.5 1699.5,286.3 1700.5,280.8 1701.5,275.5 1702.5,269.9 1703.5,265.8 1704.5,255.4 1705.5,251.5 1706.7,256.8 1707.9,259.8 1709.0,263.0 1710.2,269.6 1711.4,274.4 1712.4,278.0 1713.4,280.5 1714.5,282.4 1715.5,286.6 1716.5,288.0 1717.6,285.5 1718.8,284.0 1719.9,280.4 1721.0,281.4 1722.1,282.2 1723.1,281.6 1724.2,283.8 1725.2,287.0 1726.2,290.0 1727.3,294.1 1728.3,295.8 1729.3,298.2 1730.4,288.7 1731.6,283.3 1732.7,273.6 1733.5,293.1 1734.5,290.1 1735.5,286.4 1736.6,280.8 1737.6,277.8 1738.6,274.4 1739.7,274.3 1740.8,273.9 1741.8,275.1 1742.9,275.3 1744.2,267.8 1745.4,264.2 1746.7,260.8 1748.0,261.9 1749.3,259.1 1750.8,261.3 1752.2,266.8 1753.4,268.6 1754.6,265.4 1755.7,263.8 1756.9,264.2 1758.0,268.7 1759.1,269.5 1760.2,275.7 1761.3,276.3 1762.4,281.2 1763.5,282.4 1764.6,279.9 1765.7,279.3 1766.8,282.0 1767.9,281.4 1769.0,279.0 1770.1,279.5 1771.2,278.6 1772.3,276.8 1773.4,277.6 1774.4,278.3 1775.5,276.5 1776.6,276.0 1777.7,276.1 1778.8,273.3 1780.0,275.4 1781.1,273.0 1782.2,274.2 1783.4,274.3 1784.5,271.9 1785.8,262.5 1787.1,265.5 1788.3,268.5 1789.6,272.7 1790.6,275.5 1791.6,278.7 1792.6,280.4 1793.6,284.0 1794.6,284.5 1795.6,290.6 1797.3,279.5 1799.2,271.3" fill="none" stroke="#0000ff" stroke-width="4.8" stroke-linejoin="round" stroke-linecap="round" />
<line x1="1799.20" y1="271.30" x2="1914.70" y2="271.30" stroke="#0000ff" stroke-width="4" />
<line x1="1464.40" y1="271.30" x2="1914.70" y2="271.30" stroke="#000000" stroke-width="1.1" stroke-dasharray="20.6,12.7"/>
<line x1="1464.50" y1="108.00" x2="1464.50" y2="419.00" stroke="#0000ff" stroke-width="1"/>
<line x1="1914.50" y1="108.00" x2="1914.50" y2="419.00" stroke="#262626" stroke-width="1"/>
<line x1="1464.00" y1="418.50" x2="1915.00" y2="418.50" stroke="#262626" stroke-width="1"/>
<line x1="1464.50" y1="413.50" x2="1464.50" y2="418.00" stroke="#262626" stroke-width="1"/>
<text x="1457.79" y="448.00" font-size="22.2" fill="#262626" textLength="13.23" lengthAdjust="spacingAndGlyphs">0</text>
<line x1="1520.50" y1="413.50" x2="1520.50" y2="418.00" stroke="#262626" stroke-width="1"/>
<text x="1514.07" y="448.00" font-size="22.2" fill="#262626" textLength="13.23" lengthAdjust="spacingAndGlyphs">3</text>
<line x1="1576.50" y1="413.50" x2="1576.50" y2="418.00" stroke="#262626" stroke-width="1"/>
<text x="1570.36" y="448.00" font-size="22.2" fill="#262626" textLength="13.23" lengthAdjust="spacingAndGlyphs">6</text>
<line x1="1633.50" y1="413.50" x2="1633.50" y2="418.00" stroke="#262626" stroke-width="1"/>
<text x="1626.65" y="448.00" font-size="22.2" fill="#262626" textLength="13.23" lengthAdjust="spacingAndGlyphs">9</text>
<line x1="1689.50" y1="413.50" x2="1689.50" y2="418.00" stroke="#262626" stroke-width="1"/>
<text x="1676.32" y="448.00" font-size="22.2" fill="#262626" textLength="26.46" lengthAdjust="spacingAndGlyphs">12</text>
<line x1="1745.50" y1="413.50" x2="1745.50" y2="418.00" stroke="#262626" stroke-width="1"/>
<text x="1732.61" y="448.00" font-size="22.2" fill="#262626" textLength="26.46" lengthAdjust="spacingAndGlyphs">15</text>
<line x1="1802.50" y1="413.50" x2="1802.50" y2="418.00" stroke="#262626" stroke-width="1"/>
<text x="1788.90" y="448.00" font-size="22.2" fill="#262626" textLength="26.46" lengthAdjust="spacingAndGlyphs">18</text>
<line x1="1858.50" y1="413.50" x2="1858.50" y2="418.00" stroke="#262626" stroke-width="1"/>
<text x="1845.18" y="448.00" font-size="22.2" fill="#262626" textLength="26.46" lengthAdjust="spacingAndGlyphs">21</text>
<line x1="1914.50" y1="413.50" x2="1914.50" y2="418.00" stroke="#262626" stroke-width="1"/>
<text x="1901.47" y="448.00" font-size="22.2" fill="#262626" textLength="26.46" lengthAdjust="spacingAndGlyphs">24</text>
<line x1="1464.00" y1="131.50" x2="1469.50" y2="131.50" stroke="#0000ff" stroke-width="1"/>
<text x="1430.44" y="139.20" font-size="22.2" fill="#0000ff" textLength="26.46" lengthAdjust="spacingAndGlyphs">40</text>
<line x1="1464.00" y1="201.50" x2="1469.50" y2="201.50" stroke="#0000ff" stroke-width="1"/>
<text x="1430.44" y="209.10" font-size="22.2" fill="#0000ff" textLength="26.46" lengthAdjust="spacingAndGlyphs">20</text>
<line x1="1464.00" y1="271.50" x2="1469.50" y2="271.50" stroke="#0000ff" stroke-width="1"/>
<text x="1443.67" y="279.10" font-size="22.2" fill="#0000ff" textLength="13.23" lengthAdjust="spacingAndGlyphs">0</text>
<line x1="1464.00" y1="341.50" x2="1469.50" y2="341.50" stroke="#0000ff" stroke-width="1"/>
<text x="1422.93" y="349.00" font-size="22.2" fill="#0000ff" textLength="33.97" lengthAdjust="spacingAndGlyphs">-20</text>
<line x1="1464.00" y1="411.50" x2="1469.50" y2="411.50" stroke="#0000ff" stroke-width="1"/>
<text x="1422.93" y="418.80" font-size="22.2" fill="#0000ff" textLength="33.97" lengthAdjust="spacingAndGlyphs">-40</text>
<line x1="1909.50" y1="131.50" x2="1914.50" y2="131.50" stroke="#262626" stroke-width="1"/>
<text x="1922.70" y="139.20" font-size="22.2" fill="#000000" textLength="13.23" lengthAdjust="spacingAndGlyphs">4</text>
<line x1="1909.50" y1="201.50" x2="1914.50" y2="201.50" stroke="#262626" stroke-width="1"/>
<text x="1922.70" y="209.10" font-size="22.2" fill="#000000" textLength="13.23" lengthAdjust="spacingAndGlyphs">2</text>
<line x1="1909.50" y1="271.50" x2="1914.50" y2="271.50" stroke="#262626" stroke-width="1"/>
<text x="1922.70" y="279.10" font-size="22.2" fill="#000000" textLength="13.23" lengthAdjust="spacingAndGlyphs">0</text>
<line x1="1909.50" y1="341.50" x2="1914.50" y2="341.50" stroke="#262626" stroke-width="1"/>
<text x="1922.70" y="349.00" font-size="22.2" fill="#000000" textLength="20.74" lengthAdjust="spacingAndGlyphs">-2</text>
<line x1="1909.50" y1="411.50" x2="1914.50" y2="411.50" stroke="#262626" stroke-width="1"/>
<text x="1922.70" y="418.80" font-size="22.2" fill="#000000" textLength="20.74" lengthAdjust="spacingAndGlyphs">-4</text>
<text x="1626.61" y="479.00" font-size="24.3" fill="#262626" font-weight="normal" textLength="124.48" lengthAdjust="spacingAndGlyphs">UT Time /h</text>
<text x="1644.89" y="61.70" font-size="26.2" fill="#000000" font-weight="normal" textLength="104.84" lengthAdjust="spacingAndGlyphs">Dunedin</text>
<text x="1464.56" y="100.20" font-size="12.2" fill="#000000" font-weight="normal" textLength="254.48" lengthAdjust="spacingAndGlyphs">File Updated:05-Dec-2025 17:49:02 UTC</text>
<text x="1779.47" y="106.60" font-size="16.5" fill="#000000" font-weight="normal" textLength="129.74" lengthAdjust="spacingAndGlyphs">minute resolution</text>
<line x1="1799.20" y1="143.50" x2="1799.20" y2="418.20" stroke="#00ffff" stroke-width="2.6" />
<rect x="1792.70" y="104.60" width="110.50" height="38.90" fill="#ffffff" stroke="#00ffff" stroke-width="1.4"/>
<text x="1799.64" y="130.80" font-size="21.5" fill="#000000" font-weight="normal" textLength="95.50" lengthAdjust="spacingAndGlyphs">time now</text>
<text transform="translate(1410.30,376.21) rotate(-90)" x="0" y="0" font-size="16.8" fill="#0000ff" font-weight="normal" textLength="224.63" lengthAdjust="spacingAndGlyphs">X Mean Magnetic Field / nT</text>
<text transform="translate(1967.30,364.52) rotate(-90)" x="0" y="0" font-size="16.8" fill="#000000" font-weight="normal" textLength="201.82" lengthAdjust="spacingAndGlyphs">Rate of Change / nT/min</text>
<rect x="275.50" y="537.20" width="112.95" height="310.00" fill="#e6e6e6" stroke="none" stroke-width="0"/>
<rect x="633.17" y="537.20" width="94.12" height="310.00" fill="#e6e6e6" stroke="none" stroke-width="0"/>
<line x1="275.00" y1="692.50" x2="728.00" y2="692.50" stroke="#000000" stroke-width="1"/>
<line x1="275.50" y1="537.20" x2="275.50" y2="848.20" stroke="#262626" stroke-width="1"/>
<line x1="275.00" y1="847.50" x2="728.00" y2="847.50" stroke="#262626" stroke-width="1"/>
<line x1="275.00" y1="537.50" x2="280.50" y2="537.50" stroke="#262626" stroke-width="1"/>
<line x1="275.00" y1="614.50" x2="280.50" y2="614.50" stroke="#262626" stroke-width="1"/>
<line x1="275.00" y1="770.50" x2="280.50" y2="770.50" stroke="#262626" stroke-width="1"/>
<line x1="275.50" y1="842.70" x2="275.50" y2="847.20" stroke="#262626" stroke-width="1"/>
<line x1="294.50" y1="842.70" x2="294.50" y2="847.20" stroke="#262626" stroke-width="1"/>
<line x1="313.50" y1="842.70" x2="313.50" y2="847.20" stroke="#262626" stroke-width="1"/>
<line x1="331.50" y1="842.70" x2="331.50" y2="847.20" stroke="#262626" stroke-width="1"/>
<line x1="350.50" y1="842.70" x2="350.50" y2="847.20" stroke="#262626" stroke-width="1"/>
<line x1="369.50" y1="842.70" x2="369.50" y2="847.20" stroke="#262626" stroke-width="1"/>
<line x1="388.50" y1="842.70" x2="388.50" y2="847.20" stroke="#262626" stroke-width="1"/>
<line x1="407.50" y1="842.70" x2="407.50" y2="847.20" stroke="#262626" stroke-width="1"/>
<line x1="426.50" y1="842.70" x2="426.50" y2="847.20" stroke="#262626" stroke-width="1"/>
<line x1="444.50" y1="842.70" x2="444.50" y2="847.20" stroke="#262626" stroke-width="1"/>
<line x1="463.50" y1="842.70" x2="463.50" y2="847.20" stroke="#262626" stroke-width="1"/>
<line x1="482.50" y1="842.70" x2="482.50" y2="847.20" stroke="#262626" stroke-width="1"/>
<line x1="501.50" y1="842.70" x2="501.50" y2="847.20" stroke="#262626" stroke-width="1"/>
<line x1="520.50" y1="842.70" x2="520.50" y2="847.20" stroke="#262626" stroke-width="1"/>
<line x1="539.50" y1="842.70" x2="539.50" y2="847.20" stroke="#262626" stroke-width="1"/>
<line x1="557.50" y1="842.70" x2="557.50" y2="847.20" stroke="#262626" stroke-width="1"/>
<line x1="576.50" y1="842.70" x2="576.50" y2="847.20" stroke="#262626" stroke-width="1"/>
<line x1="595.50" y1="842.70" x2="595.50" y2="847.20" stroke="#262626" stroke-width="1"/>
<line x1="614.50" y1="842.70" x2="614.50" y2="847.20" stroke="#262626" stroke-width="1"/>
<line x1="633.50" y1="842.70" x2="633.50" y2="847.20" stroke="#262626" stroke-width="1"/>
<line x1="652.50" y1="842.70" x2="652.50" y2="847.20" stroke="#262626" stroke-width="1"/>
<line x1="670.50" y1="842.70" x2="670.50" y2="847.20" stroke="#262626" stroke-width="1"/>
<line x1="689.50" y1="842.70" x2="689.50" y2="847.20" stroke="#262626" stroke-width="1"/>
<line x1="708.50" y1="842.70" x2="708.50" y2="847.20" stroke="#262626" stroke-width="1"/>
<line x1="727.50" y1="842.70" x2="727.50" y2="847.20" stroke="#262626" stroke-width="1"/>
<text x="268.89" y="877.00" font-size="22.2" fill="#262626" textLength="13.23" lengthAdjust="spacingAndGlyphs">0</text>
<text x="325.36" y="877.00" font-size="22.2" fill="#262626" textLength="13.23" lengthAdjust="spacingAndGlyphs">3</text>
<text x="381.84" y="877.00" font-size="22.2" fill="#262626" textLength="13.23" lengthAdjust="spacingAndGlyphs">6</text>
<text x="438.31" y="877.00" font-size="22.2" fill="#262626" textLength="13.23" lengthAdjust="spacingAndGlyphs">9</text>
<text x="488.17" y="877.00" font-size="22.2" fill="#262626" textLength="26.46" lengthAdjust="spacingAndGlyphs">12</text>
<text x="544.65" y="877.00" font-size="22.2" fill="#262626" textLength="26.46" lengthAdjust="spacingAndGlyphs">15</text>
<text x="601.12" y="877.00" font-size="22.2" fill="#262626" textLength="26.46" lengthAdjust="spacingAndGlyphs">18</text>
<text x="657.60" y="877.00" font-size="22.2" fill="#262626" textLength="26.46" lengthAdjust="spacingAndGlyphs">21</text>
<text x="714.07" y="877.00" font-size="22.2" fill="#262626" textLength="26.46" lengthAdjust="spacingAndGlyphs">24</text>
<line x1="610.90" y1="572.20" x2="610.90" y2="847.20" stroke="#00ffff" stroke-width="2.6" />
<rect x="604.40" y="533.00" width="111.10" height="39.20" fill="#ffffff" stroke="#00ffff" stroke-width="1.4"/>
<text x="611.34" y="559.80" font-size="21.5" fill="#000000" font-weight="normal" textLength="95.50" lengthAdjust="spacingAndGlyphs">time now</text>
<text x="735.70" y="605.70" font-size="16.2" fill="#262626" font-weight="bold" textLength="105.44" lengthAdjust="spacingAndGlyphs">dB/dT Alert</text>
<text x="735.17" y="761.20" font-size="16.2" fill="#0000ff" font-weight="bold" textLength="65.17" lengthAdjust="spacingAndGlyphs">B Alert</text>
<rect x="868.30" y="537.20" width="113.23" height="310.00" fill="#e6e6e6" stroke="none" stroke-width="0"/>
<rect x="1226.85" y="537.20" width="94.35" height="310.00" fill="#e6e6e6" stroke="none" stroke-width="0"/>
<line x1="868.00" y1="692.50" x2="1322.00" y2="692.50" stroke="#000000" stroke-width="1"/>
<line x1="868.50" y1="537.20" x2="868.50" y2="848.20" stroke="#262626" stroke-width="1"/>
<line x1="868.00" y1="847.50" x2="1322.00" y2="847.50" stroke="#262626" stroke-width="1"/>
<line x1="868.00" y1="537.50" x2="873.50" y2="537.50" stroke="#262626" stroke-width="1"/>
<line x1="868.00" y1="614.50" x2="873.50" y2="614.50" stroke="#262626" stroke-width="1"/>
<line x1="868.00" y1="770.50" x2="873.50" y2="770.50" stroke="#262626" stroke-width="1"/>
<line x1="868.50" y1="842.70" x2="868.50" y2="847.20" stroke="#262626" stroke-width="1"/>
<line x1="887.50" y1="842.70" x2="887.50" y2="847.20" stroke="#262626" stroke-width="1"/>
<line x1="906.50" y1="842.70" x2="906.50" y2="847.20" stroke="#262626" stroke-width="1"/>
<line x1="924.50" y1="842.70" x2="924.50" y2="847.20" stroke="#262626" stroke-width="1"/>
<line x1="943.50" y1="842.70" x2="943.50" y2="847.20" stroke="#262626" stroke-width="1"/>
<line x1="962.50" y1="842.70" x2="962.50" y2="847.20" stroke="#262626" stroke-width="1"/>
<line x1="981.50" y1="842.70" x2="981.50" y2="847.20" stroke="#262626" stroke-width="1"/>
<line x1="1000.50" y1="842.70" x2="1000.50" y2="847.20" stroke="#262626" stroke-width="1"/>
<line x1="1019.50" y1="842.70" x2="1019.50" y2="847.20" stroke="#262626" stroke-width="1"/>
<line x1="1038.50" y1="842.70" x2="1038.50" y2="847.20" stroke="#262626" stroke-width="1"/>
<line x1="1057.50" y1="842.70" x2="1057.50" y2="847.20" stroke="#262626" stroke-width="1"/>
<line x1="1075.50" y1="842.70" x2="1075.50" y2="847.20" stroke="#262626" stroke-width="1"/>
<line x1="1094.50" y1="842.70" x2="1094.50" y2="847.20" stroke="#262626" stroke-width="1"/>
<line x1="1113.50" y1="842.70" x2="1113.50" y2="847.20" stroke="#262626" stroke-width="1"/>
<line x1="1132.50" y1="842.70" x2="1132.50" y2="847.20" stroke="#262626" stroke-width="1"/>
<line x1="1151.50" y1="842.70" x2="1151.50" y2="847.20" stroke="#262626" stroke-width="1"/>
<line x1="1170.50" y1="842.70" x2="1170.50" y2="847.20" stroke="#262626" stroke-width="1"/>
<line x1="1189.50" y1="842.70" x2="1189.50" y2="847.20" stroke="#262626" stroke-width="1"/>
<line x1="1207.50" y1="842.70" x2="1207.50" y2="847.20" stroke="#262626" stroke-width="1"/>
<line x1="1226.50" y1="842.70" x2="1226.50" y2="847.20" stroke="#262626" stroke-width="1"/>
<line x1="1245.50" y1="842.70" x2="1245.50" y2="847.20" stroke="#262626" stroke-width="1"/>
<line x1="1264.50" y1="842.70" x2="1264.50" y2="847.20" stroke="#262626" stroke-width="1"/>
<line x1="1283.50" y1="842.70" x2="1283.50" y2="847.20" stroke="#262626" stroke-width="1"/>
<line x1="1302.50" y1="842.70" x2="1302.50" y2="847.20" stroke="#262626" stroke-width="1"/>
<line x1="1321.50" y1="842.70" x2="1321.50" y2="847.20" stroke="#262626" stroke-width="1"/>
<text x="861.69" y="877.00" font-size="22.2" fill="#262626" textLength="13.23" lengthAdjust="spacingAndGlyphs">0</text>
<text x="918.30" y="877.00" font-size="22.2" fill="#262626" textLength="13.23" lengthAdjust="spacingAndGlyphs">3</text>
<text x="974.91" y="877.00" font-size="22.2" fill="#262626" textLength="13.23" lengthAdjust="spacingAndGlyphs">6</text>
<text x="1031.52" y="877.00" font-size="22.2" fill="#262626" textLength="13.23" lengthAdjust="spacingAndGlyphs">9</text>
<text x="1081.52" y="877.00" font-size="22.2" fill="#262626" textLength="26.46" lengthAdjust="spacingAndGlyphs">12</text>
<text x="1138.13" y="877.00" font-size="22.2" fill="#262626" textLength="26.46" lengthAdjust="spacingAndGlyphs">15</text>
<text x="1194.75" y="877.00" font-size="22.2" fill="#262626" textLength="26.46" lengthAdjust="spacingAndGlyphs">18</text>
<text x="1251.36" y="877.00" font-size="22.2" fill="#262626" textLength="26.46" lengthAdjust="spacingAndGlyphs">21</text>
<text x="1307.97" y="877.00" font-size="22.2" fill="#262626" textLength="26.46" lengthAdjust="spacingAndGlyphs">24</text>
<line x1="1204.50" y1="572.20" x2="1204.50" y2="847.20" stroke="#00ffff" stroke-width="2.6" />
<rect x="1198.60" y="533.00" width="110.50" height="39.20" fill="#ffffff" stroke="#00ffff" stroke-width="1.4"/>
<text x="1205.54" y="559.80" font-size="21.5" fill="#000000" font-weight="normal" textLength="95.50" lengthAdjust="spacingAndGlyphs">time now</text>
<text x="1329.30" y="605.70" font-size="16.2" fill="#262626" font-weight="bold" textLength="105.44" lengthAdjust="spacingAndGlyphs">dB/dT Alert</text>
<text x="1328.77" y="761.20" font-size="16.2" fill="#0000ff" font-weight="bold" textLength="65.17" lengthAdjust="spacingAndGlyphs">B Alert</text>
<rect x="1464.40" y="537.20" width="112.57" height="310.00" fill="#e6e6e6" stroke="none" stroke-width="0"/>
<rect x="1820.89" y="537.20" width="93.81" height="310.00" fill="#e6e6e6" stroke="none" stroke-width="0"/>
<line x1="1464.00" y1="692.50" x2="1915.00" y2="692.50" stroke="#000000" stroke-width="1"/>
<line x1="1464.50" y1="537.20" x2="1464.50" y2="848.20" stroke="#262626" stroke-width="1"/>
<line x1="1464.00" y1="847.50" x2="1915.00" y2="847.50" stroke="#262626" stroke-width="1"/>
<line x1="1464.00" y1="537.50" x2="1469.50" y2="537.50" stroke="#262626" stroke-width="1"/>
<line x1="1464.00" y1="614.50" x2="1469.50" y2="614.50" stroke="#262626" stroke-width="1"/>
<line x1="1464.00" y1="770.50" x2="1469.50" y2="770.50" stroke="#262626" stroke-width="1"/>
<line x1="1464.50" y1="842.70" x2="1464.50" y2="847.20" stroke="#262626" stroke-width="1"/>
<line x1="1483.50" y1="842.70" x2="1483.50" y2="847.20" stroke="#262626" stroke-width="1"/>
<line x1="1501.50" y1="842.70" x2="1501.50" y2="847.20" stroke="#262626" stroke-width="1"/>
<line x1="1520.50" y1="842.70" x2="1520.50" y2="847.20" stroke="#262626" stroke-width="1"/>
<line x1="1539.50" y1="842.70" x2="1539.50" y2="847.20" stroke="#262626" stroke-width="1"/>
<line x1="1558.50" y1="842.70" x2="1558.50" y2="847.20" stroke="#262626" stroke-width="1"/>
<line x1="1576.50" y1="842.70" x2="1576.50" y2="847.20" stroke="#262626" stroke-width="1"/>
<line x1="1595.50" y1="842.70" x2="1595.50" y2="847.20" stroke="#262626" stroke-width="1"/>
<line x1="1614.50" y1="842.70" x2="1614.50" y2="847.20" stroke="#262626" stroke-width="1"/>
<line x1="1633.50" y1="842.70" x2="1633.50" y2="847.20" stroke="#262626" stroke-width="1"/>
<line x1="1652.50" y1="842.70" x2="1652.50" y2="847.20" stroke="#262626" stroke-width="1"/>
<line x1="1670.50" y1="842.70" x2="1670.50" y2="847.20" stroke="#262626" stroke-width="1"/>
<line x1="1689.50" y1="842.70" x2="1689.50" y2="847.20" stroke="#262626" stroke-width="1"/>
<line x1="1708.50" y1="842.70" x2="1708.50" y2="847.20" stroke="#262626" stroke-width="1"/>
<line x1="1727.50" y1="842.70" x2="1727.50" y2="847.20" stroke="#262626" stroke-width="1"/>
<line x1="1745.50" y1="842.70" x2="1745.50" y2="847.20" stroke="#262626" stroke-width="1"/>
<line x1="1764.50" y1="842.70" x2="1764.50" y2="847.20" stroke="#262626" stroke-width="1"/>
<line x1="1783.50" y1="842.70" x2="1783.50" y2="847.20" stroke="#262626" stroke-width="1"/>
<line x1="1802.50" y1="842.70" x2="1802.50" y2="847.20" stroke="#262626" stroke-width="1"/>
<line x1="1820.50" y1="842.70" x2="1820.50" y2="847.20" stroke="#262626" stroke-width="1"/>
<line x1="1839.50" y1="842.70" x2="1839.50" y2="847.20" stroke="#262626" stroke-width="1"/>
<line x1="1858.50" y1="842.70" x2="1858.50" y2="847.20" stroke="#262626" stroke-width="1"/>
<line x1="1877.50" y1="842.70" x2="1877.50" y2="847.20" stroke="#262626" stroke-width="1"/>
<line x1="1895.50" y1="842.70" x2="1895.50" y2="847.20" stroke="#262626" stroke-width="1"/>
<line x1="1914.50" y1="842.70" x2="1914.50" y2="847.20" stroke="#262626" stroke-width="1"/>
<text x="1457.79" y="877.00" font-size="22.2" fill="#262626" textLength="13.23" lengthAdjust="spacingAndGlyphs">0</text>
<text x="1514.07" y="877.00" font-size="22.2" fill="#262626" textLength="13.23" lengthAdjust="spacingAndGlyphs">3</text>
<text x="1570.36" y="877.00" font-size="22.2" fill="#262626" textLength="13.23" lengthAdjust="spacingAndGlyphs">6</text>
<text x="1626.65" y="877.00" font-size="22.2" fill="#262626" textLength="13.23" lengthAdjust="spacingAndGlyphs">9</text>
<text x="1676.32" y="877.00" font-size="22.2" fill="#262626" textLength="26.46" lengthAdjust="spacingAndGlyphs">12</text>
<text x="1732.61" y="877.00" font-size="22.2" fill="#262626" textLength="26.46" lengthAdjust="spacingAndGlyphs">15</text>
<text x="1788.90" y="877.00" font-size="22.2" fill="#262626" textLength="26.46" lengthAdjust="spacingAndGlyphs">18</text>
<text x="1845.18" y="877.00" font-size="22.2" fill="#262626" textLength="26.46" lengthAdjust="spacingAndGlyphs">21</text>
<text x="1901.47" y="877.00" font-size="22.2" fill="#262626" textLength="26.46" lengthAdjust="spacingAndGlyphs">24</text>
<line x1="1799.20" y1="572.20" x2="1799.20" y2="847.20" stroke="#00ffff" stroke-width="2.6" />
<rect x="1792.70" y="533.00" width="110.50" height="39.20" fill="#ffffff" stroke="#00ffff" stroke-width="1.4"/>
<text x="1799.64" y="559.80" font-size="21.5" fill="#000000" font-weight="normal" textLength="95.50" lengthAdjust="spacingAndGlyphs">time now</text>
<rect x="996.00" y="599.10" width="6.00" height="31.60" fill="#00ff00" stroke="none" stroke-width="0"/>
<rect x="1552.30" y="599.10" width="6.00" height="31.60" fill="#00ff00" stroke="none" stroke-width="0"/>
<rect x="1574.40" y="599.10" width="6.00" height="31.60" fill="#00ff00" stroke="none" stroke-width="0"/>
<rect x="1591.40" y="599.10" width="6.00" height="31.60" fill="#00ff00" stroke="none" stroke-width="0"/>
<rect x="1524.40" y="753.90" width="6.00" height="32.00" fill="#00ff00" stroke="none" stroke-width="0"/>
<rect x="268.10" y="882.00" width="159.30" height="39.80" fill="#00ff00" stroke="none" stroke-width="0"/>
<rect x="431.90" y="882.00" width="196.90" height="39.80" fill="#ffff00" stroke="none" stroke-width="0"/>
<rect x="628.80" y="882.00" width="165.80" height="39.80" fill="#ff0000" stroke="none" stroke-width="0"/>
<text x="274.97" y="909.50" font-size="21.5" fill="#000000" font-weight="normal" textLength="143.28" lengthAdjust="spacingAndGlyphs">minor activity</text>
<text x="438.18" y="909.50" font-size="21.5" fill="#000000" font-weight="normal" textLength="184.27" lengthAdjust="spacingAndGlyphs">moderate activity</text>
<text x="635.92" y="909.50" font-size="21.5" fill="#000000" font-weight="normal" textLength="149.43" lengthAdjust="spacingAndGlyphs">strong activity</text>
<text x="1258.19" y="908.60" font-size="21.5" fill="#000000" font-weight="normal" textLength="182.00" lengthAdjust="spacingAndGlyphs">Current Warning:</text>
<text x="1456.30" y="912.40" font-size="31.0" fill="#000000" font-weight="normal" textLength="79.59" lengthAdjust="spacingAndGlyphs">0.0/9</text>
<rect x="275.60" y="935.00" width="409.73" height="331.30" fill="#e6e6e6" stroke="none" stroke-width="0"/>
<rect x="1573.06" y="935.00" width="341.44" height="331.30" fill="#e6e6e6" stroke="none" stroke-width="0"/>
<line x1="275.50" y1="935.00" x2="275.50" y2="1267.30" stroke="#262626" stroke-width="1"/>
<line x1="275.00" y1="1266.50" x2="1915.00" y2="1266.50" stroke="#262626" stroke-width="1"/>
<line x1="275.00" y1="1266.50" x2="292.00" y2="1266.50" stroke="#262626" stroke-width="1"/>
<text x="252.37" y="1273.50" font-size="22.2" fill="#262626" textLength="13.23" lengthAdjust="spacingAndGlyphs">0</text>
<line x1="275.00" y1="1192.50" x2="292.00" y2="1192.50" stroke="#262626" stroke-width="1"/>
<text x="252.37" y="1199.88" font-size="22.2" fill="#262626" textLength="13.23" lengthAdjust="spacingAndGlyphs">2</text>
<line x1="275.00" y1="1119.50" x2="292.00" y2="1119.50" stroke="#262626" stroke-width="1"/>
<text x="252.37" y="1126.26" font-size="22.2" fill="#262626" textLength="13.23" lengthAdjust="spacingAndGlyphs">4</text>
<line x1="275.00" y1="1045.50" x2="292.00" y2="1045.50" stroke="#262626" stroke-width="1"/>
<text x="252.37" y="1052.63" font-size="22.2" fill="#262626" textLength="13.23" lengthAdjust="spacingAndGlyphs">6</text>
<line x1="275.00" y1="971.50" x2="292.00" y2="971.50" stroke="#262626" stroke-width="1"/>
<text x="252.37" y="979.01" font-size="22.2" fill="#262626" textLength="13.23" lengthAdjust="spacingAndGlyphs">8</text>
<line x1="275.50" y1="1250.00" x2="275.50" y2="1266.00" stroke="#262626" stroke-width="1"/>
<text x="268.49" y="1294.90" font-size="22.2" fill="#262626" textLength="13.23" lengthAdjust="spacingAndGlyphs">0</text>
<line x1="343.50" y1="1250.00" x2="343.50" y2="1266.00" stroke="#262626" stroke-width="1"/>
<text x="336.77" y="1294.90" font-size="22.2" fill="#262626" textLength="13.23" lengthAdjust="spacingAndGlyphs">1</text>
<line x1="412.50" y1="1250.00" x2="412.50" y2="1266.00" stroke="#262626" stroke-width="1"/>
<text x="405.06" y="1294.90" font-size="22.2" fill="#262626" textLength="13.23" lengthAdjust="spacingAndGlyphs">2</text>
<line x1="480.50" y1="1250.00" x2="480.50" y2="1266.00" stroke="#262626" stroke-width="1"/>
<text x="473.35" y="1294.90" font-size="22.2" fill="#262626" textLength="13.23" lengthAdjust="spacingAndGlyphs">3</text>
<line x1="548.50" y1="1250.00" x2="548.50" y2="1266.00" stroke="#262626" stroke-width="1"/>
<text x="541.64" y="1294.90" font-size="22.2" fill="#262626" textLength="13.23" lengthAdjust="spacingAndGlyphs">4</text>
<line x1="617.50" y1="1250.00" x2="617.50" y2="1266.00" stroke="#262626" stroke-width="1"/>
<text x="609.92" y="1294.90" font-size="22.2" fill="#262626" textLength="13.23" lengthAdjust="spacingAndGlyphs">5</text>
<line x1="685.50" y1="1250.00" x2="685.50" y2="1266.00" stroke="#262626" stroke-width="1"/>
<text x="678.21" y="1294.90" font-size="22.2" fill="#262626" textLength="13.23" lengthAdjust="spacingAndGlyphs">6</text>
<line x1="753.50" y1="1250.00" x2="753.50" y2="1266.00" stroke="#262626" stroke-width="1"/>
<text x="746.50" y="1294.90" font-size="22.2" fill="#262626" textLength="13.23" lengthAdjust="spacingAndGlyphs">7</text>
<line x1="821.50" y1="1250.00" x2="821.50" y2="1266.00" stroke="#262626" stroke-width="1"/>
<text x="814.79" y="1294.90" font-size="22.2" fill="#262626" textLength="13.23" lengthAdjust="spacingAndGlyphs">8</text>
<line x1="890.50" y1="1250.00" x2="890.50" y2="1266.00" stroke="#262626" stroke-width="1"/>
<text x="883.07" y="1294.90" font-size="22.2" fill="#262626" textLength="13.23" lengthAdjust="spacingAndGlyphs">9</text>
<line x1="958.50" y1="1250.00" x2="958.50" y2="1266.00" stroke="#262626" stroke-width="1"/>
<text x="944.75" y="1294.90" font-size="22.2" fill="#262626" textLength="26.46" lengthAdjust="spacingAndGlyphs">10</text>
<line x1="1026.50" y1="1250.00" x2="1026.50" y2="1266.00" stroke="#262626" stroke-width="1"/>
<text x="1013.03" y="1294.90" font-size="22.2" fill="#262626" textLength="26.46" lengthAdjust="spacingAndGlyphs">11</text>
<line x1="1095.50" y1="1250.00" x2="1095.50" y2="1266.00" stroke="#262626" stroke-width="1"/>
<text x="1081.32" y="1294.90" font-size="22.2" fill="#262626" textLength="26.46" lengthAdjust="spacingAndGlyphs">12</text>
<line x1="1163.50" y1="1250.00" x2="1163.50" y2="1266.00" stroke="#262626" stroke-width="1"/>
<text x="1149.61" y="1294.90" font-size="22.2" fill="#262626" textLength="26.46" lengthAdjust="spacingAndGlyphs">13</text>
<line x1="1231.50" y1="1250.00" x2="1231.50" y2="1266.00" stroke="#262626" stroke-width="1"/>
<text x="1217.90" y="1294.90" font-size="22.2" fill="#262626" textLength="26.46" lengthAdjust="spacingAndGlyphs">14</text>
<line x1="1299.50" y1="1250.00" x2="1299.50" y2="1266.00" stroke="#262626" stroke-width="1"/>
<text x="1286.18" y="1294.90" font-size="22.2" fill="#262626" textLength="26.46" lengthAdjust="spacingAndGlyphs">15</text>
<line x1="1368.50" y1="1250.00" x2="1368.50" y2="1266.00" stroke="#262626" stroke-width="1"/>
<text x="1354.47" y="1294.90" font-size="22.2" fill="#262626" textLength="26.46" lengthAdjust="spacingAndGlyphs">16</text>
<line x1="1436.50" y1="1250.00" x2="1436.50" y2="1266.00" stroke="#262626" stroke-width="1"/>
<text x="1422.76" y="1294.90" font-size="22.2" fill="#262626" textLength="26.46" lengthAdjust="spacingAndGlyphs">17</text>
<line x1="1504.50" y1="1250.00" x2="1504.50" y2="1266.00" stroke="#262626" stroke-width="1"/>
<text x="1491.05" y="1294.90" font-size="22.2" fill="#262626" textLength="26.46" lengthAdjust="spacingAndGlyphs">18</text>
<line x1="1573.50" y1="1250.00" x2="1573.50" y2="1266.00" stroke="#262626" stroke-width="1"/>
<text x="1559.33" y="1294.90" font-size="22.2" fill="#262626" textLength="26.46" lengthAdjust="spacingAndGlyphs">19</text>
<line x1="1641.50" y1="1250.00" x2="1641.50" y2="1266.00" stroke="#262626" stroke-width="1"/>
<text x="1627.62" y="1294.90" font-size="22.2" fill="#262626" textLength="26.46" lengthAdjust="spacingAndGlyphs">20</text>
<line x1="1709.50" y1="1250.00" x2="1709.50" y2="1266.00" stroke="#262626" stroke-width="1"/>
<text x="1695.91" y="1294.90" font-size="22.2" fill="#262626" textLength="26.46" lengthAdjust="spacingAndGlyphs">21</text>
<line x1="1777.50" y1="1250.00" x2="1777.50" y2="1266.00" stroke="#262626" stroke-width="1"/>
<text x="1764.20" y="1294.90" font-size="22.2" fill="#262626" textLength="26.46" lengthAdjust="spacingAndGlyphs">22</text>
<line x1="1846.50" y1="1250.00" x2="1846.50" y2="1266.00" stroke="#262626" stroke-width="1"/>
<text x="1832.48" y="1294.90" font-size="22.2" fill="#262626" textLength="26.46" lengthAdjust="spacingAndGlyphs">23</text>
<line x1="1914.50" y1="1250.00" x2="1914.50" y2="1266.00" stroke="#262626" stroke-width="1"/>
<rect x="491.80" y="1241.20" width="10.50" height="25.10" fill="#00ff00" stroke="#000000" stroke-width="1"/>
<rect x="593.40" y="1253.30" width="12.10" height="13.00" fill="#00ff00" stroke="#000000" stroke-width="1"/>
<rect x="673.50" y="1253.30" width="12.10" height="13.00" fill="#00ff00" stroke="#000000" stroke-width="1"/>
<rect x="741.60" y="1241.20" width="12.10" height="25.10" fill="#00ff00" stroke="#000000" stroke-width="1"/>
<line x1="1493.40" y1="973.10" x2="1493.40" y2="1266.30" stroke="#00ffff" stroke-width="2.6" />
<rect x="1487.50" y="933.60" width="110.20" height="39.50" fill="#ffffff" stroke="#00ffff" stroke-width="1.4"/>
<text x="1494.44" y="960.40" font-size="21.5" fill="#000000" font-weight="normal" textLength="95.50" lengthAdjust="spacingAndGlyphs">time now</text>
<text transform="translate(240.30,1190.31) rotate(-90)" x="0" y="0" font-size="24.5" fill="#262626" font-weight="normal" textLength="180.54" lengthAdjust="spacingAndGlyphs">Warning Values</text>
<text x="1021.24" y="1327.30" font-size="23.0" fill="#262626" font-weight="normal" textLength="148.18" lengthAdjust="spacingAndGlyphs">Time UTC / h</text>
<text x="848.08" y="1359.00" font-size="21.0" fill="#000000" font-weight="normal" textLength="489.46" lengthAdjust="spacingAndGlyphs">Last updated: Sat 06 Dec 2025 06:50:35 NZDT</text>
</svg></body></html>
